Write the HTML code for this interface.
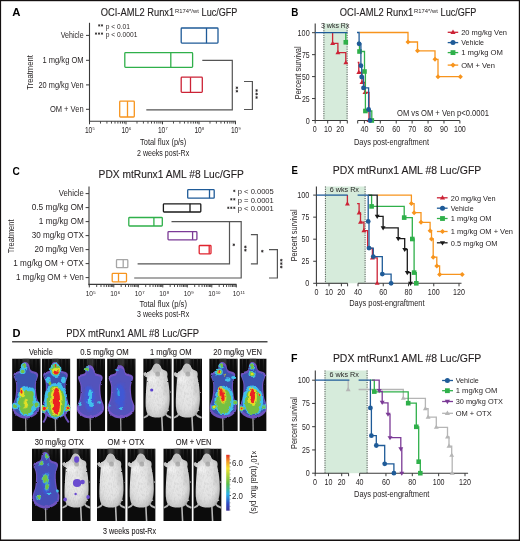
<!DOCTYPE html>
<html><head><meta charset="utf-8"><style>
html,body{margin:0;padding:0;background:#fff;width:520px;height:541px;overflow:hidden}
svg{display:block;will-change:transform}
text{font-family:"Liberation Sans",sans-serif}
</style></head><body>
<svg width="520" height="541" viewBox="0 0 520 541">
<rect x="0" y="0" width="520" height="541" fill="#fff"/>
<text x="12.30" y="15.70" font-size="11" textLength="8.20" lengthAdjust="spacingAndGlyphs" fill="#000" font-weight="bold">A</text>
<text x="100.80" y="16.40" font-size="10.1" textLength="73.40" lengthAdjust="spacingAndGlyphs" fill="#231f20" stroke="#231f20" stroke-width="0.12">OCI-AML2 Runx1</text>
<text x="175.10" y="13.30" font-size="6" textLength="23.70" lengthAdjust="spacingAndGlyphs" fill="#231f20">R174*/wt</text>
<text x="201.60" y="16.40" font-size="10.1" textLength="35.80" lengthAdjust="spacingAndGlyphs" fill="#231f20" stroke="#231f20" stroke-width="0.12">Luc/GFP</text>
<text x="339.80" y="16.40" font-size="10.1" textLength="73.40" lengthAdjust="spacingAndGlyphs" fill="#231f20" stroke="#231f20" stroke-width="0.12">OCI-AML2 Runx1</text>
<text x="414.10" y="13.30" font-size="6" textLength="23.70" lengthAdjust="spacingAndGlyphs" fill="#231f20">R174*/wt</text>
<text x="440.60" y="16.40" font-size="10.1" textLength="35.80" lengthAdjust="spacingAndGlyphs" fill="#231f20" stroke="#231f20" stroke-width="0.12">Luc/GFP</text>
<line x1="89.50" y1="22.80" x2="89.50" y2="121.80" stroke="#3a3a3a" stroke-width="1.1"/>
<line x1="89.00" y1="121.30" x2="236.00" y2="121.30" stroke="#3a3a3a" stroke-width="1.1"/>
<line x1="86.00" y1="35.40" x2="89.50" y2="35.40" stroke="#3a3a3a" stroke-width="1.0"/>
<text x="60.80" y="38.20" font-size="8.3" textLength="22.80" lengthAdjust="spacingAndGlyphs" fill="#231f20">Vehicle</text>
<line x1="86.00" y1="60.30" x2="89.50" y2="60.30" stroke="#3a3a3a" stroke-width="1.0"/>
<text x="42.50" y="63.10" font-size="8.3" textLength="41.10" lengthAdjust="spacingAndGlyphs" fill="#231f20">1 mg/kg OM</text>
<line x1="86.00" y1="84.90" x2="89.50" y2="84.90" stroke="#3a3a3a" stroke-width="1.0"/>
<text x="38.50" y="87.70" font-size="8.3" textLength="45.10" lengthAdjust="spacingAndGlyphs" fill="#231f20">20 mg/kg Ven</text>
<line x1="86.00" y1="109.30" x2="89.50" y2="109.30" stroke="#3a3a3a" stroke-width="1.0"/>
<text x="49.90" y="112.10" font-size="8.3" textLength="33.70" lengthAdjust="spacingAndGlyphs" fill="#231f20">OM + Ven</text>
<g transform="translate(29.90,72.50) rotate(-90)"><text x="-17.25" y="2.97" font-size="8.6" textLength="34.50" lengthAdjust="spacingAndGlyphs" fill="#231f20">Treatment</text></g>
<path d="M99.20,24.20L99.20,26.60M98.16,24.80L100.24,26.00M100.24,24.80L98.16,26.00" stroke="#231f20" stroke-width="0.7" fill="none"/>
<path d="M102.00,24.20L102.00,26.60M100.96,24.80L103.04,26.00M103.04,24.80L100.96,26.00" stroke="#231f20" stroke-width="0.7" fill="none"/>
<text x="105.80" y="28.50" font-size="6.4" textLength="24.10" lengthAdjust="spacingAndGlyphs" fill="#231f20">p &lt; 0.01</text>
<path d="M96.00,32.40L96.00,34.80M94.96,33.00L97.04,34.20M97.04,33.00L94.96,34.20" stroke="#231f20" stroke-width="0.7" fill="none"/>
<path d="M99.00,32.40L99.00,34.80M97.96,33.00L100.04,34.20M100.04,33.00L97.96,34.20" stroke="#231f20" stroke-width="0.7" fill="none"/>
<path d="M102.00,32.40L102.00,34.80M100.96,33.00L103.04,34.20M103.04,33.00L100.96,34.20" stroke="#231f20" stroke-width="0.7" fill="none"/>
<text x="105.80" y="36.60" font-size="6.4" textLength="31.60" lengthAdjust="spacingAndGlyphs" fill="#231f20">p &lt; 0.0001</text>
<line x1="89.50" y1="121.30" x2="89.50" y2="124.30" stroke="#3a3a3a" stroke-width="1.0"/>
<line x1="100.49" y1="121.30" x2="100.49" y2="123.60" stroke="#3a3a3a" stroke-width="0.9"/>
<line x1="106.91" y1="121.30" x2="106.91" y2="123.60" stroke="#3a3a3a" stroke-width="0.9"/>
<line x1="111.48" y1="121.30" x2="111.48" y2="123.60" stroke="#3a3a3a" stroke-width="0.9"/>
<line x1="115.01" y1="121.30" x2="115.01" y2="123.60" stroke="#3a3a3a" stroke-width="0.9"/>
<line x1="117.90" y1="121.30" x2="117.90" y2="123.60" stroke="#3a3a3a" stroke-width="0.9"/>
<line x1="120.35" y1="121.30" x2="120.35" y2="123.60" stroke="#3a3a3a" stroke-width="0.9"/>
<line x1="122.46" y1="121.30" x2="122.46" y2="123.60" stroke="#3a3a3a" stroke-width="0.9"/>
<line x1="124.33" y1="121.30" x2="124.33" y2="123.60" stroke="#3a3a3a" stroke-width="0.9"/>
<text x="84.90" y="132.80" font-size="8.4" textLength="7.40" lengthAdjust="spacingAndGlyphs" fill="#231f20">10</text>
<text x="92.60" y="130.30" font-size="3.8" textLength="2.20" lengthAdjust="spacingAndGlyphs" fill="#231f20">5</text>
<line x1="126.00" y1="121.30" x2="126.00" y2="124.30" stroke="#3a3a3a" stroke-width="1.0"/>
<line x1="136.99" y1="121.30" x2="136.99" y2="123.60" stroke="#3a3a3a" stroke-width="0.9"/>
<line x1="143.41" y1="121.30" x2="143.41" y2="123.60" stroke="#3a3a3a" stroke-width="0.9"/>
<line x1="147.98" y1="121.30" x2="147.98" y2="123.60" stroke="#3a3a3a" stroke-width="0.9"/>
<line x1="151.51" y1="121.30" x2="151.51" y2="123.60" stroke="#3a3a3a" stroke-width="0.9"/>
<line x1="154.40" y1="121.30" x2="154.40" y2="123.60" stroke="#3a3a3a" stroke-width="0.9"/>
<line x1="156.85" y1="121.30" x2="156.85" y2="123.60" stroke="#3a3a3a" stroke-width="0.9"/>
<line x1="158.96" y1="121.30" x2="158.96" y2="123.60" stroke="#3a3a3a" stroke-width="0.9"/>
<line x1="160.83" y1="121.30" x2="160.83" y2="123.60" stroke="#3a3a3a" stroke-width="0.9"/>
<text x="121.40" y="132.80" font-size="8.4" textLength="7.40" lengthAdjust="spacingAndGlyphs" fill="#231f20">10</text>
<text x="129.10" y="130.30" font-size="3.8" textLength="2.20" lengthAdjust="spacingAndGlyphs" fill="#231f20">6</text>
<line x1="162.50" y1="121.30" x2="162.50" y2="124.30" stroke="#3a3a3a" stroke-width="1.0"/>
<line x1="173.49" y1="121.30" x2="173.49" y2="123.60" stroke="#3a3a3a" stroke-width="0.9"/>
<line x1="179.91" y1="121.30" x2="179.91" y2="123.60" stroke="#3a3a3a" stroke-width="0.9"/>
<line x1="184.48" y1="121.30" x2="184.48" y2="123.60" stroke="#3a3a3a" stroke-width="0.9"/>
<line x1="188.01" y1="121.30" x2="188.01" y2="123.60" stroke="#3a3a3a" stroke-width="0.9"/>
<line x1="190.90" y1="121.30" x2="190.90" y2="123.60" stroke="#3a3a3a" stroke-width="0.9"/>
<line x1="193.35" y1="121.30" x2="193.35" y2="123.60" stroke="#3a3a3a" stroke-width="0.9"/>
<line x1="195.46" y1="121.30" x2="195.46" y2="123.60" stroke="#3a3a3a" stroke-width="0.9"/>
<line x1="197.33" y1="121.30" x2="197.33" y2="123.60" stroke="#3a3a3a" stroke-width="0.9"/>
<text x="157.90" y="132.80" font-size="8.4" textLength="7.40" lengthAdjust="spacingAndGlyphs" fill="#231f20">10</text>
<text x="165.60" y="130.30" font-size="3.8" textLength="2.20" lengthAdjust="spacingAndGlyphs" fill="#231f20">7</text>
<line x1="199.00" y1="121.30" x2="199.00" y2="124.30" stroke="#3a3a3a" stroke-width="1.0"/>
<line x1="209.99" y1="121.30" x2="209.99" y2="123.60" stroke="#3a3a3a" stroke-width="0.9"/>
<line x1="216.41" y1="121.30" x2="216.41" y2="123.60" stroke="#3a3a3a" stroke-width="0.9"/>
<line x1="220.98" y1="121.30" x2="220.98" y2="123.60" stroke="#3a3a3a" stroke-width="0.9"/>
<line x1="224.51" y1="121.30" x2="224.51" y2="123.60" stroke="#3a3a3a" stroke-width="0.9"/>
<line x1="227.40" y1="121.30" x2="227.40" y2="123.60" stroke="#3a3a3a" stroke-width="0.9"/>
<line x1="229.85" y1="121.30" x2="229.85" y2="123.60" stroke="#3a3a3a" stroke-width="0.9"/>
<line x1="231.96" y1="121.30" x2="231.96" y2="123.60" stroke="#3a3a3a" stroke-width="0.9"/>
<line x1="233.83" y1="121.30" x2="233.83" y2="123.60" stroke="#3a3a3a" stroke-width="0.9"/>
<text x="194.40" y="132.80" font-size="8.4" textLength="7.40" lengthAdjust="spacingAndGlyphs" fill="#231f20">10</text>
<text x="202.10" y="130.30" font-size="3.8" textLength="2.20" lengthAdjust="spacingAndGlyphs" fill="#231f20">8</text>
<line x1="235.50" y1="121.30" x2="235.50" y2="124.30" stroke="#3a3a3a" stroke-width="1.0"/>
<text x="230.90" y="132.80" font-size="8.4" textLength="7.40" lengthAdjust="spacingAndGlyphs" fill="#231f20">10</text>
<text x="238.60" y="130.30" font-size="3.8" textLength="2.20" lengthAdjust="spacingAndGlyphs" fill="#231f20">9</text>
<text x="140.10" y="144.57" font-size="9.2" textLength="46.20" lengthAdjust="spacingAndGlyphs" fill="#231f20">Total flux (p/s)</text>
<text x="137.00" y="155.57" font-size="9.2" textLength="52.20" lengthAdjust="spacingAndGlyphs" fill="#231f20">2 weeks post-Rx</text>
<rect x="181.20" y="28.00" width="36.80" height="15.10" fill="none" stroke="#1f5b98" stroke-width="1.3" rx="0.8"/>
<line x1="206.50" y1="28.00" x2="206.50" y2="43.10" stroke="#1f5b98" stroke-width="1.3"/>
<rect x="124.80" y="52.70" width="67.80" height="14.70" fill="none" stroke="#2fb04a" stroke-width="1.3" rx="0.8"/>
<line x1="170.80" y1="52.70" x2="170.80" y2="67.40" stroke="#2fb04a" stroke-width="1.3"/>
<rect x="181.20" y="77.20" width="21.10" height="15.10" fill="none" stroke="#cc2336" stroke-width="1.3" rx="0.8"/>
<line x1="190.50" y1="77.20" x2="190.50" y2="92.30" stroke="#cc2336" stroke-width="1.3"/>
<rect x="119.70" y="101.20" width="14.60" height="15.80" fill="none" stroke="#f7941d" stroke-width="1.3" rx="0.8"/>
<line x1="127.50" y1="101.20" x2="127.50" y2="117.00" stroke="#f7941d" stroke-width="1.3"/>
<polyline points="202.30,60.30 232.30,60.30 232.30,109.90 146.30,109.90" fill="none" stroke="#555555" stroke-width="1.2"/>
<polyline points="244.00,81.50 252.40,81.50 252.40,109.50 244.00,109.50" fill="none" stroke="#555555" stroke-width="1.2"/>
<path d="M236.90,86.45L236.90,89.15M235.73,87.12L238.07,88.47M238.07,87.12L235.73,88.47" stroke="#231f20" stroke-width="0.75" fill="none"/>
<path d="M236.90,89.85L236.90,92.55M235.73,90.53L238.07,91.88M238.07,90.53L235.73,91.88" stroke="#231f20" stroke-width="0.75" fill="none"/>
<path d="M256.60,89.15L256.60,91.85M255.43,89.83L257.77,91.17M257.77,89.83L255.43,91.17" stroke="#231f20" stroke-width="0.75" fill="none"/>
<path d="M256.60,92.65L256.60,95.35M255.43,93.33L257.77,94.67M257.77,93.33L255.43,94.67" stroke="#231f20" stroke-width="0.75" fill="none"/>
<path d="M256.60,96.15L256.60,98.85M255.43,96.83L257.77,98.17M257.77,96.83L255.43,98.17" stroke="#231f20" stroke-width="0.75" fill="none"/>
<text x="291.20" y="15.80" font-size="11" textLength="7.10" lengthAdjust="spacingAndGlyphs" fill="#000" font-weight="bold">B</text>
<rect x="323.50" y="23.40" width="24.00" height="97.10" fill="#d6ebdb"/>
<line x1="323.90" y1="23.40" x2="323.90" y2="120.50" stroke="#333" stroke-width="0.9" stroke-dasharray="1,1.3"/>
<line x1="347.10" y1="23.40" x2="347.10" y2="120.50" stroke="#333" stroke-width="0.9" stroke-dasharray="1,1.3"/>
<text x="321.00" y="28.40" font-size="7.0" textLength="28.40" lengthAdjust="spacingAndGlyphs" fill="#231f20">3 wks Rx</text>
<line x1="315.20" y1="23.40" x2="315.20" y2="121.00" stroke="#3a3a3a" stroke-width="1.1"/>
<line x1="312.00" y1="32.70" x2="315.20" y2="32.70" stroke="#3a3a3a" stroke-width="1.0"/>
<text x="297.60" y="35.70" font-size="9.0" textLength="12.10" lengthAdjust="spacingAndGlyphs" fill="#231f20">100</text>
<line x1="312.00" y1="54.65" x2="315.20" y2="54.65" stroke="#3a3a3a" stroke-width="1.0"/>
<text x="302.00" y="57.65" font-size="9.0" textLength="7.70" lengthAdjust="spacingAndGlyphs" fill="#231f20">75</text>
<line x1="312.00" y1="76.60" x2="315.20" y2="76.60" stroke="#3a3a3a" stroke-width="1.0"/>
<text x="302.00" y="79.60" font-size="9.0" textLength="7.70" lengthAdjust="spacingAndGlyphs" fill="#231f20">50</text>
<line x1="312.00" y1="98.55" x2="315.20" y2="98.55" stroke="#3a3a3a" stroke-width="1.0"/>
<text x="302.00" y="101.55" font-size="9.0" textLength="7.70" lengthAdjust="spacingAndGlyphs" fill="#231f20">25</text>
<line x1="312.00" y1="120.50" x2="315.20" y2="120.50" stroke="#3a3a3a" stroke-width="1.0"/>
<text x="305.70" y="123.50" font-size="9.0" textLength="4.00" lengthAdjust="spacingAndGlyphs" fill="#231f20">0</text>
<g transform="translate(298.30,72.80) rotate(-90)"><text x="-26.45" y="2.97" font-size="8.6" textLength="52.90" lengthAdjust="spacingAndGlyphs" fill="#231f20">Percent survival</text></g>
<line x1="315.20" y1="120.50" x2="347.30" y2="120.50" stroke="#3a3a3a" stroke-width="1.1"/>
<line x1="315.20" y1="120.50" x2="315.20" y2="123.50" stroke="#3a3a3a" stroke-width="1.0"/>
<line x1="327.70" y1="120.50" x2="327.70" y2="123.50" stroke="#3a3a3a" stroke-width="1.0"/>
<line x1="340.20" y1="120.50" x2="340.20" y2="123.50" stroke="#3a3a3a" stroke-width="1.0"/>
<line x1="347.30" y1="120.50" x2="347.30" y2="123.50" stroke="#3a3a3a" stroke-width="1.0"/>
<line x1="357.70" y1="120.50" x2="459.80" y2="120.50" stroke="#3a3a3a" stroke-width="1.1"/>
<line x1="357.70" y1="120.50" x2="357.70" y2="123.50" stroke="#3a3a3a" stroke-width="1.0"/>
<line x1="364.40" y1="120.50" x2="364.40" y2="123.50" stroke="#3a3a3a" stroke-width="1.0"/>
<line x1="380.31" y1="120.50" x2="380.31" y2="123.50" stroke="#3a3a3a" stroke-width="1.0"/>
<line x1="396.23" y1="120.50" x2="396.23" y2="123.50" stroke="#3a3a3a" stroke-width="1.0"/>
<line x1="412.14" y1="120.50" x2="412.14" y2="123.50" stroke="#3a3a3a" stroke-width="1.0"/>
<line x1="428.06" y1="120.50" x2="428.06" y2="123.50" stroke="#3a3a3a" stroke-width="1.0"/>
<line x1="443.97" y1="120.50" x2="443.97" y2="123.50" stroke="#3a3a3a" stroke-width="1.0"/>
<line x1="459.88" y1="120.50" x2="459.88" y2="123.50" stroke="#3a3a3a" stroke-width="1.0"/>
<text x="312.82" y="132.46" font-size="8.3" textLength="3.95" lengthAdjust="spacingAndGlyphs" fill="#231f20">0</text>
<text x="324.05" y="132.46" font-size="8.3" textLength="7.90" lengthAdjust="spacingAndGlyphs" fill="#231f20">10</text>
<text x="336.35" y="132.46" font-size="8.3" textLength="7.90" lengthAdjust="spacingAndGlyphs" fill="#231f20">20</text>
<text x="360.45" y="132.46" font-size="8.3" textLength="7.90" lengthAdjust="spacingAndGlyphs" fill="#231f20">40</text>
<text x="376.36" y="132.46" font-size="8.3" textLength="7.90" lengthAdjust="spacingAndGlyphs" fill="#231f20">50</text>
<text x="392.28" y="132.46" font-size="8.3" textLength="7.90" lengthAdjust="spacingAndGlyphs" fill="#231f20">60</text>
<text x="408.19" y="132.46" font-size="8.3" textLength="7.90" lengthAdjust="spacingAndGlyphs" fill="#231f20">70</text>
<text x="424.11" y="132.46" font-size="8.3" textLength="7.90" lengthAdjust="spacingAndGlyphs" fill="#231f20">80</text>
<text x="440.02" y="132.46" font-size="8.3" textLength="7.90" lengthAdjust="spacingAndGlyphs" fill="#231f20">90</text>
<text x="453.96" y="132.46" font-size="8.3" textLength="11.85" lengthAdjust="spacingAndGlyphs" fill="#231f20">100</text>
<text x="354.00" y="144.78" font-size="9.8" textLength="75.00" lengthAdjust="spacingAndGlyphs" fill="#231f20">Days post-engraftment</text>
<text x="397.00" y="115.90" font-size="8.4" textLength="92.00" lengthAdjust="spacingAndGlyphs" fill="#231f20">OM vs OM + Ven p&lt;0.0001</text>
<polyline points="359.50,32.50 408.00,32.50 408.00,42.00 417.50,42.00 417.50,50.80 435.00,50.80 435.00,59.30 438.00,59.30 438.00,76.70 460.40,76.70" fill="none" stroke="#f7941d" stroke-width="1.3" stroke-linejoin="miter"/>
<path d="M408.00,39.50 L410.50,42.00 L408.00,44.50 L405.50,42.00Z" fill="#f7941d"/>
<path d="M417.50,48.30 L420.00,50.80 L417.50,53.30 L415.00,50.80Z" fill="#f7941d"/>
<path d="M435.00,56.80 L437.50,59.30 L435.00,61.80 L432.50,59.30Z" fill="#f7941d"/>
<path d="M438.00,74.20 L440.50,76.70 L438.00,79.20 L435.50,76.70Z" fill="#f7941d"/>
<path d="M460.40,74.20 L462.90,76.70 L460.40,79.20 L457.90,76.70Z" fill="#f7941d"/>
<polyline points="332.60,32.70 332.60,43.40 337.90,43.40 337.90,52.60 345.80,52.60 345.80,62.80 347.50,62.80" fill="none" stroke="#cc2336" stroke-width="1.3" stroke-linejoin="miter"/>
<path d="M332.60,40.80 L335.07,44.96 L330.13,44.96Z" fill="#cc2336"/>
<path d="M337.90,50.00 L340.37,54.16 L335.43,54.16Z" fill="#cc2336"/>
<path d="M345.80,60.20 L348.27,64.36 L343.33,64.36Z" fill="#cc2336"/>
<polyline points="357.70,62.50 358.80,62.50 358.80,72.40 362.00,72.40 362.00,82.50 365.00,82.50 365.00,92.50 369.00,92.50 369.00,120.50" fill="none" stroke="#cc2336" stroke-width="1.3" stroke-linejoin="miter"/>
<path d="M358.80,69.80 L361.27,73.96 L356.33,73.96Z" fill="#cc2336"/>
<path d="M362.00,79.90 L364.47,84.06 L359.53,84.06Z" fill="#cc2336"/>
<path d="M365.00,89.90 L367.47,94.06 L362.53,94.06Z" fill="#cc2336"/>
<path d="M369.00,117.90 L371.47,122.06 L366.53,122.06Z" fill="#cc2336"/>
<polyline points="345.80,32.70 345.80,42.30 347.50,42.30" fill="none" stroke="#2fb04a" stroke-width="1.3" stroke-linejoin="miter"/>
<rect x="343.50" y="40.00" width="4.60" height="4.60" fill="#2fb04a"/>
<polyline points="357.70,42.30 359.50,42.30 359.50,51.50 364.50,51.50 364.50,71.50 365.40,71.50 365.40,111.00 371.80,111.00 371.80,120.50" fill="none" stroke="#2fb04a" stroke-width="1.3" stroke-linejoin="miter"/>
<rect x="357.20" y="49.20" width="4.60" height="4.60" fill="#2fb04a"/>
<rect x="362.20" y="69.20" width="4.60" height="4.60" fill="#2fb04a"/>
<rect x="363.10" y="108.70" width="4.60" height="4.60" fill="#2fb04a"/>
<rect x="369.50" y="118.20" width="4.60" height="4.60" fill="#2fb04a"/>
<polyline points="315.20,32.70 347.50,32.70" fill="none" stroke="#1f5b98" stroke-width="1.3" stroke-linejoin="miter"/>
<polyline points="357.00,32.50 359.10,32.50 359.10,43.80 360.90,43.80 360.90,65.70 361.70,65.70 361.70,77.00 363.50,77.00 363.50,87.90 368.60,87.90 368.60,109.50 370.00,109.50 370.00,120.50" fill="none" stroke="#1f5b98" stroke-width="1.3" stroke-linejoin="miter"/>
<circle cx="359.10" cy="43.80" r="2.40" fill="#1f5b98"/>
<circle cx="360.90" cy="65.70" r="2.40" fill="#1f5b98"/>
<circle cx="361.70" cy="77.00" r="2.40" fill="#1f5b98"/>
<circle cx="363.50" cy="87.90" r="2.40" fill="#1f5b98"/>
<circle cx="368.60" cy="109.50" r="2.40" fill="#1f5b98"/>
<circle cx="370.00" cy="120.50" r="2.40" fill="#1f5b98"/>
<line x1="447.70" y1="32.30" x2="458.20" y2="32.30" stroke="#cc2336" stroke-width="1.3"/>
<path d="M453.00,29.57 L455.59,33.94 L450.41,33.94Z" fill="#cc2336"/>
<text x="461.20" y="35.05" font-size="8.0" textLength="45.80" lengthAdjust="spacingAndGlyphs" fill="#231f20">20 mg/kg Ven</text>
<line x1="447.70" y1="42.60" x2="458.20" y2="42.60" stroke="#1f5b98" stroke-width="1.3"/>
<circle cx="453.00" cy="42.60" r="2.52" fill="#1f5b98"/>
<text x="461.20" y="45.35" font-size="8.0" textLength="22.80" lengthAdjust="spacingAndGlyphs" fill="#231f20">Vehicle</text>
<line x1="447.70" y1="52.60" x2="458.20" y2="52.60" stroke="#2fb04a" stroke-width="1.3"/>
<rect x="450.58" y="50.19" width="4.83" height="4.83" fill="#2fb04a"/>
<text x="461.20" y="55.35" font-size="8.0" textLength="41.80" lengthAdjust="spacingAndGlyphs" fill="#231f20">1 mg/kg OM</text>
<line x1="447.70" y1="65.10" x2="458.20" y2="65.10" stroke="#f7941d" stroke-width="1.3"/>
<path d="M453.00,62.47 L455.62,65.10 L453.00,67.72 L450.38,65.10Z" fill="#f7941d"/>
<text x="461.20" y="67.85" font-size="8.0" textLength="33.80" lengthAdjust="spacingAndGlyphs" fill="#231f20">OM + Ven</text>
<text x="12.50" y="174.50" font-size="11" textLength="7.30" lengthAdjust="spacingAndGlyphs" fill="#000" font-weight="bold">C</text>
<text x="98.60" y="177.70" font-size="10.7" textLength="145.20" lengthAdjust="spacingAndGlyphs" fill="#231f20" stroke="#231f20" stroke-width="0.12">PDX mtRunx1 AML #8 Luc/GFP</text>
<line x1="89.00" y1="186.50" x2="89.00" y2="285.30" stroke="#3a3a3a" stroke-width="1.1"/>
<line x1="88.50" y1="284.40" x2="236.50" y2="284.40" stroke="#3a3a3a" stroke-width="1.2"/>
<line x1="85.60" y1="193.60" x2="89.00" y2="193.60" stroke="#3a3a3a" stroke-width="1.0"/>
<text x="58.80" y="196.40" font-size="8.3" textLength="25.00" lengthAdjust="spacingAndGlyphs" fill="#231f20">Vehicle</text>
<line x1="85.60" y1="207.60" x2="89.00" y2="207.60" stroke="#3a3a3a" stroke-width="1.0"/>
<text x="31.70" y="210.40" font-size="8.3" textLength="52.10" lengthAdjust="spacingAndGlyphs" fill="#231f20">0.5 mg/kg OM</text>
<line x1="85.60" y1="221.60" x2="89.00" y2="221.60" stroke="#3a3a3a" stroke-width="1.0"/>
<text x="38.80" y="224.40" font-size="8.3" textLength="45.00" lengthAdjust="spacingAndGlyphs" fill="#231f20">1 mg/kg OM</text>
<line x1="85.60" y1="235.60" x2="89.00" y2="235.60" stroke="#3a3a3a" stroke-width="1.0"/>
<text x="31.70" y="238.40" font-size="8.3" textLength="52.10" lengthAdjust="spacingAndGlyphs" fill="#231f20">30 mg/kg OTX</text>
<line x1="85.60" y1="249.60" x2="89.00" y2="249.60" stroke="#3a3a3a" stroke-width="1.0"/>
<text x="34.40" y="252.40" font-size="8.3" textLength="49.40" lengthAdjust="spacingAndGlyphs" fill="#231f20">20 mg/kg Ven</text>
<line x1="85.60" y1="263.60" x2="89.00" y2="263.60" stroke="#3a3a3a" stroke-width="1.0"/>
<text x="13.30" y="266.40" font-size="8.3" textLength="70.50" lengthAdjust="spacingAndGlyphs" fill="#231f20">1 mg/kg OM + OTX</text>
<line x1="85.60" y1="277.60" x2="89.00" y2="277.60" stroke="#3a3a3a" stroke-width="1.0"/>
<text x="16.00" y="280.40" font-size="8.3" textLength="67.80" lengthAdjust="spacingAndGlyphs" fill="#231f20">1 mg/kg OM + Ven</text>
<g transform="translate(10.90,236.40) rotate(-90)"><text x="-16.85" y="2.97" font-size="8.6" textLength="33.70" lengthAdjust="spacingAndGlyphs" fill="#231f20">Treatment</text></g>
<path d="M234.30,189.70L234.30,192.10M233.26,190.30L235.34,191.50M235.34,190.30L233.26,191.50" stroke="#231f20" stroke-width="0.7" fill="none"/>
<text x="237.80" y="194.20" font-size="6.5" textLength="36.00" lengthAdjust="spacingAndGlyphs" fill="#231f20">p &lt; 0.0005</text>
<path d="M231.30,198.10L231.30,200.50M230.26,198.70L232.34,199.90M232.34,198.70L230.26,199.90" stroke="#231f20" stroke-width="0.7" fill="none"/>
<path d="M234.30,198.10L234.30,200.50M233.26,198.70L235.34,199.90M235.34,198.70L233.26,199.90" stroke="#231f20" stroke-width="0.7" fill="none"/>
<text x="237.80" y="202.60" font-size="6.5" textLength="36.00" lengthAdjust="spacingAndGlyphs" fill="#231f20">p = 0.0001</text>
<path d="M228.30,206.60L228.30,209.00M227.26,207.20L229.34,208.40M229.34,207.20L227.26,208.40" stroke="#231f20" stroke-width="0.7" fill="none"/>
<path d="M231.30,206.60L231.30,209.00M230.26,207.20L232.34,208.40M232.34,207.20L230.26,208.40" stroke="#231f20" stroke-width="0.7" fill="none"/>
<path d="M234.30,206.60L234.30,209.00M233.26,207.20L235.34,208.40M235.34,207.20L233.26,208.40" stroke="#231f20" stroke-width="0.7" fill="none"/>
<text x="237.80" y="211.10" font-size="6.5" textLength="36.00" lengthAdjust="spacingAndGlyphs" fill="#231f20">p &lt; 0.0001</text>
<line x1="89.30" y1="284.40" x2="89.30" y2="287.40" stroke="#3a3a3a" stroke-width="1.0"/>
<line x1="96.68" y1="284.40" x2="96.68" y2="287.00" stroke="#3a3a3a" stroke-width="0.9"/>
<line x1="100.99" y1="284.40" x2="100.99" y2="287.00" stroke="#3a3a3a" stroke-width="0.9"/>
<line x1="104.05" y1="284.40" x2="104.05" y2="287.00" stroke="#3a3a3a" stroke-width="0.9"/>
<line x1="106.42" y1="284.40" x2="106.42" y2="287.00" stroke="#3a3a3a" stroke-width="0.9"/>
<line x1="108.36" y1="284.40" x2="108.36" y2="287.00" stroke="#3a3a3a" stroke-width="0.9"/>
<line x1="110.00" y1="284.40" x2="110.00" y2="287.00" stroke="#3a3a3a" stroke-width="0.9"/>
<line x1="111.43" y1="284.40" x2="111.43" y2="287.00" stroke="#3a3a3a" stroke-width="0.9"/>
<line x1="112.68" y1="284.40" x2="112.68" y2="287.00" stroke="#3a3a3a" stroke-width="0.9"/>
<text x="85.65" y="296.00" font-size="7.6" textLength="7.30" lengthAdjust="spacingAndGlyphs" fill="#231f20">10</text>
<text x="93.20" y="293.70" font-size="3.8" textLength="2.40" lengthAdjust="spacingAndGlyphs" fill="#231f20">5</text>
<line x1="113.80" y1="284.40" x2="113.80" y2="287.40" stroke="#3a3a3a" stroke-width="1.0"/>
<line x1="121.18" y1="284.40" x2="121.18" y2="287.00" stroke="#3a3a3a" stroke-width="0.9"/>
<line x1="125.49" y1="284.40" x2="125.49" y2="287.00" stroke="#3a3a3a" stroke-width="0.9"/>
<line x1="128.55" y1="284.40" x2="128.55" y2="287.00" stroke="#3a3a3a" stroke-width="0.9"/>
<line x1="130.92" y1="284.40" x2="130.92" y2="287.00" stroke="#3a3a3a" stroke-width="0.9"/>
<line x1="132.86" y1="284.40" x2="132.86" y2="287.00" stroke="#3a3a3a" stroke-width="0.9"/>
<line x1="134.50" y1="284.40" x2="134.50" y2="287.00" stroke="#3a3a3a" stroke-width="0.9"/>
<line x1="135.93" y1="284.40" x2="135.93" y2="287.00" stroke="#3a3a3a" stroke-width="0.9"/>
<line x1="137.18" y1="284.40" x2="137.18" y2="287.00" stroke="#3a3a3a" stroke-width="0.9"/>
<text x="110.15" y="296.00" font-size="7.6" textLength="7.30" lengthAdjust="spacingAndGlyphs" fill="#231f20">10</text>
<text x="117.70" y="293.70" font-size="3.8" textLength="2.40" lengthAdjust="spacingAndGlyphs" fill="#231f20">6</text>
<line x1="138.30" y1="284.40" x2="138.30" y2="287.40" stroke="#3a3a3a" stroke-width="1.0"/>
<line x1="145.68" y1="284.40" x2="145.68" y2="287.00" stroke="#3a3a3a" stroke-width="0.9"/>
<line x1="149.99" y1="284.40" x2="149.99" y2="287.00" stroke="#3a3a3a" stroke-width="0.9"/>
<line x1="153.05" y1="284.40" x2="153.05" y2="287.00" stroke="#3a3a3a" stroke-width="0.9"/>
<line x1="155.42" y1="284.40" x2="155.42" y2="287.00" stroke="#3a3a3a" stroke-width="0.9"/>
<line x1="157.36" y1="284.40" x2="157.36" y2="287.00" stroke="#3a3a3a" stroke-width="0.9"/>
<line x1="159.00" y1="284.40" x2="159.00" y2="287.00" stroke="#3a3a3a" stroke-width="0.9"/>
<line x1="160.43" y1="284.40" x2="160.43" y2="287.00" stroke="#3a3a3a" stroke-width="0.9"/>
<line x1="161.68" y1="284.40" x2="161.68" y2="287.00" stroke="#3a3a3a" stroke-width="0.9"/>
<text x="134.65" y="296.00" font-size="7.6" textLength="7.30" lengthAdjust="spacingAndGlyphs" fill="#231f20">10</text>
<text x="142.20" y="293.70" font-size="3.8" textLength="2.40" lengthAdjust="spacingAndGlyphs" fill="#231f20">7</text>
<line x1="162.80" y1="284.40" x2="162.80" y2="287.40" stroke="#3a3a3a" stroke-width="1.0"/>
<line x1="170.18" y1="284.40" x2="170.18" y2="287.00" stroke="#3a3a3a" stroke-width="0.9"/>
<line x1="174.49" y1="284.40" x2="174.49" y2="287.00" stroke="#3a3a3a" stroke-width="0.9"/>
<line x1="177.55" y1="284.40" x2="177.55" y2="287.00" stroke="#3a3a3a" stroke-width="0.9"/>
<line x1="179.92" y1="284.40" x2="179.92" y2="287.00" stroke="#3a3a3a" stroke-width="0.9"/>
<line x1="181.86" y1="284.40" x2="181.86" y2="287.00" stroke="#3a3a3a" stroke-width="0.9"/>
<line x1="183.50" y1="284.40" x2="183.50" y2="287.00" stroke="#3a3a3a" stroke-width="0.9"/>
<line x1="184.93" y1="284.40" x2="184.93" y2="287.00" stroke="#3a3a3a" stroke-width="0.9"/>
<line x1="186.18" y1="284.40" x2="186.18" y2="287.00" stroke="#3a3a3a" stroke-width="0.9"/>
<text x="159.15" y="296.00" font-size="7.6" textLength="7.30" lengthAdjust="spacingAndGlyphs" fill="#231f20">10</text>
<text x="166.70" y="293.70" font-size="3.8" textLength="2.40" lengthAdjust="spacingAndGlyphs" fill="#231f20">8</text>
<line x1="187.30" y1="284.40" x2="187.30" y2="287.40" stroke="#3a3a3a" stroke-width="1.0"/>
<line x1="194.68" y1="284.40" x2="194.68" y2="287.00" stroke="#3a3a3a" stroke-width="0.9"/>
<line x1="198.99" y1="284.40" x2="198.99" y2="287.00" stroke="#3a3a3a" stroke-width="0.9"/>
<line x1="202.05" y1="284.40" x2="202.05" y2="287.00" stroke="#3a3a3a" stroke-width="0.9"/>
<line x1="204.42" y1="284.40" x2="204.42" y2="287.00" stroke="#3a3a3a" stroke-width="0.9"/>
<line x1="206.36" y1="284.40" x2="206.36" y2="287.00" stroke="#3a3a3a" stroke-width="0.9"/>
<line x1="208.00" y1="284.40" x2="208.00" y2="287.00" stroke="#3a3a3a" stroke-width="0.9"/>
<line x1="209.43" y1="284.40" x2="209.43" y2="287.00" stroke="#3a3a3a" stroke-width="0.9"/>
<line x1="210.68" y1="284.40" x2="210.68" y2="287.00" stroke="#3a3a3a" stroke-width="0.9"/>
<text x="183.65" y="296.00" font-size="7.6" textLength="7.30" lengthAdjust="spacingAndGlyphs" fill="#231f20">10</text>
<text x="191.20" y="293.70" font-size="3.8" textLength="2.40" lengthAdjust="spacingAndGlyphs" fill="#231f20">9</text>
<line x1="211.80" y1="284.40" x2="211.80" y2="287.40" stroke="#3a3a3a" stroke-width="1.0"/>
<line x1="219.18" y1="284.40" x2="219.18" y2="287.00" stroke="#3a3a3a" stroke-width="0.9"/>
<line x1="223.49" y1="284.40" x2="223.49" y2="287.00" stroke="#3a3a3a" stroke-width="0.9"/>
<line x1="226.55" y1="284.40" x2="226.55" y2="287.00" stroke="#3a3a3a" stroke-width="0.9"/>
<line x1="228.92" y1="284.40" x2="228.92" y2="287.00" stroke="#3a3a3a" stroke-width="0.9"/>
<line x1="230.86" y1="284.40" x2="230.86" y2="287.00" stroke="#3a3a3a" stroke-width="0.9"/>
<line x1="232.50" y1="284.40" x2="232.50" y2="287.00" stroke="#3a3a3a" stroke-width="0.9"/>
<line x1="233.93" y1="284.40" x2="233.93" y2="287.00" stroke="#3a3a3a" stroke-width="0.9"/>
<line x1="235.18" y1="284.40" x2="235.18" y2="287.00" stroke="#3a3a3a" stroke-width="0.9"/>
<text x="208.15" y="296.00" font-size="7.6" textLength="7.30" lengthAdjust="spacingAndGlyphs" fill="#231f20">10</text>
<text x="215.70" y="293.70" font-size="3.8" textLength="4.80" lengthAdjust="spacingAndGlyphs" fill="#231f20">10</text>
<line x1="236.30" y1="284.40" x2="236.30" y2="287.40" stroke="#3a3a3a" stroke-width="1.0"/>
<text x="232.65" y="296.00" font-size="7.6" textLength="7.30" lengthAdjust="spacingAndGlyphs" fill="#231f20">10</text>
<text x="240.20" y="293.70" font-size="3.8" textLength="4.80" lengthAdjust="spacingAndGlyphs" fill="#231f20">11</text>
<text x="139.45" y="307.37" font-size="9.2" textLength="47.50" lengthAdjust="spacingAndGlyphs" fill="#231f20">Total flux (p/s)</text>
<text x="137.00" y="317.07" font-size="9.2" textLength="52.20" lengthAdjust="spacingAndGlyphs" fill="#231f20">3 weeks post-Rx</text>
<rect x="187.70" y="189.70" width="26.50" height="8.50" fill="none" stroke="#1f5b98" stroke-width="1.3" rx="0.8"/>
<line x1="209.50" y1="189.70" x2="209.50" y2="198.20" stroke="#1f5b98" stroke-width="1.3"/>
<rect x="163.40" y="203.80" width="37.40" height="8.20" fill="none" stroke="#1a1a1a" stroke-width="1.3" rx="0.8"/>
<line x1="190.00" y1="203.80" x2="190.00" y2="212.00" stroke="#1a1a1a" stroke-width="1.3"/>
<rect x="128.80" y="217.50" width="33.50" height="8.50" fill="none" stroke="#2fb04a" stroke-width="1.3" rx="0.8"/>
<line x1="153.90" y1="217.50" x2="153.90" y2="226.00" stroke="#2fb04a" stroke-width="1.3"/>
<rect x="168.00" y="231.60" width="28.90" height="8.30" fill="none" stroke="#7b3a96" stroke-width="1.3" rx="0.8"/>
<line x1="192.60" y1="231.60" x2="192.60" y2="239.90" stroke="#7b3a96" stroke-width="1.3"/>
<rect x="199.20" y="245.50" width="11.80" height="8.30" fill="none" stroke="#e0242f" stroke-width="1.3" rx="0.8"/>
<line x1="209.20" y1="245.50" x2="209.20" y2="253.80" stroke="#e0242f" stroke-width="1.3"/>
<rect x="116.50" y="259.70" width="11.30" height="8.00" fill="none" stroke="#a6a6a6" stroke-width="1.3" rx="0.8"/>
<line x1="123.20" y1="259.70" x2="123.20" y2="267.70" stroke="#a6a6a6" stroke-width="1.3"/>
<rect x="112.20" y="273.40" width="14.30" height="8.40" fill="none" stroke="#f7941d" stroke-width="1.3" rx="0.8"/>
<line x1="118.50" y1="273.40" x2="118.50" y2="281.80" stroke="#f7941d" stroke-width="1.3"/>
<polyline points="171.50,221.70 241.20,221.70 241.20,278.00 134.20,278.00" fill="none" stroke="#555555" stroke-width="1.2"/>
<polyline points="229.50,221.70 229.50,263.90 137.60,263.90" fill="none" stroke="#555555" stroke-width="1.2"/>
<polyline points="250.90,234.70 257.30,234.70 257.30,263.90 250.90,263.90" fill="none" stroke="#555555" stroke-width="1.2"/>
<polyline points="269.00,249.70 277.40,249.70 277.40,278.00 269.00,278.00" fill="none" stroke="#555555" stroke-width="1.2"/>
<path d="M233.80,243.45L233.80,246.15M232.63,244.12L234.97,245.48M234.97,244.12L232.63,245.48" stroke="#231f20" stroke-width="0.75" fill="none"/>
<path d="M245.40,245.55L245.40,248.25M244.23,246.22L246.57,247.58M246.57,246.22L244.23,247.58" stroke="#231f20" stroke-width="0.75" fill="none"/>
<path d="M245.40,248.85L245.40,251.55M244.23,249.52L246.57,250.88M246.57,249.52L244.23,250.88" stroke="#231f20" stroke-width="0.75" fill="none"/>
<path d="M262.30,249.85L262.30,252.55M261.13,250.52L263.47,251.88M263.47,250.52L261.13,251.88" stroke="#231f20" stroke-width="0.75" fill="none"/>
<path d="M281.30,258.85L281.30,261.55M280.13,259.52L282.47,260.88M282.47,259.52L280.13,260.88" stroke="#231f20" stroke-width="0.75" fill="none"/>
<path d="M281.30,262.25L281.30,264.95M280.13,262.93L282.47,264.28M282.47,262.93L280.13,264.28" stroke="#231f20" stroke-width="0.75" fill="none"/>
<path d="M281.30,265.65L281.30,268.35M280.13,266.32L282.47,267.68M282.47,266.32L280.13,267.68" stroke="#231f20" stroke-width="0.75" fill="none"/>
<defs>
<filter id="wob" x="-20%" y="-20%" width="140%" height="140%"><feTurbulence type="fractalNoise" baseFrequency="0.22" numOctaves="2" seed="3" result="n"/><feDisplacementMap in="SourceGraphic" in2="n" scale="3.5" xChannelSelector="R" yChannelSelector="G" result="d"/><feGaussianBlur in="d" stdDeviation="0.5"/></filter>
<filter id="wob2" x="-20%" y="-20%" width="140%" height="140%"><feTurbulence type="fractalNoise" baseFrequency="0.3" numOctaves="2" seed="7" result="n"/><feDisplacementMap in="SourceGraphic" in2="n" scale="2.2" xChannelSelector="R" yChannelSelector="G" result="d"/><feGaussianBlur in="d" stdDeviation="0.3"/></filter>
<filter id="fur" x="0" y="0" width="100%" height="100%"><feTurbulence type="fractalNoise" baseFrequency="0.9 0.35" numOctaves="2" seed="11" result="n"/><feColorMatrix in="n" type="matrix" values="0 0 0 0 0.45  0 0 0 0 0.45  0 0 0 0 0.45  0 0 0 -2.2 1.25" result="m"/><feComposite in="m" in2="SourceGraphic" operator="in"/></filter>
<filter id="b0" x="-30%" y="-30%" width="160%" height="160%"><feGaussianBlur stdDeviation="0.45"/></filter>
<filter id="b1" x="-30%" y="-30%" width="160%" height="160%"><feGaussianBlur stdDeviation="0.7"/></filter>
<filter id="b2" x="-50%" y="-50%" width="200%" height="200%"><feGaussianBlur stdDeviation="1.1"/></filter>
<filter id="b3" x="-50%" y="-50%" width="200%" height="200%"><feGaussianBlur stdDeviation="1.8"/></filter>
<radialGradient id="wg" cx="0.48" cy="0.5" r="0.6"><stop offset="0" stop-color="#ebebeb"/><stop offset="0.6" stop-color="#dedede"/><stop offset="0.88" stop-color="#c2c2c2"/><stop offset="1" stop-color="#949494"/></radialGradient>
<linearGradient id="hg" x1="0" y1="0" x2="0" y2="1"><stop offset="0" stop-color="#6e6e6e"/><stop offset="0.6" stop-color="#9a9a9a" stop-opacity="0.9"/><stop offset="1" stop-color="#bdbdbd" stop-opacity="0"/></linearGradient>
<linearGradient id="stripe" x1="0" y1="0" x2="0" y2="1"><stop offset="0" stop-color="#5a5a5a"/><stop offset="1" stop-color="#2a2a2a" stop-opacity="0"/></linearGradient>
<linearGradient id="cb" x1="0" y1="1" x2="0" y2="0"><stop offset="0" stop-color="#3b3296"/><stop offset="0.12" stop-color="#2f49c4"/><stop offset="0.3" stop-color="#28b2e6"/><stop offset="0.48" stop-color="#5bbe4a"/><stop offset="0.62" stop-color="#a6cf3c"/><stop offset="0.76" stop-color="#f3e12c"/><stop offset="0.88" stop-color="#f39a25"/><stop offset="1" stop-color="#e42a23"/></linearGradient>
</defs>
<text x="12.60" y="336.80" font-size="11" textLength="8.00" lengthAdjust="spacingAndGlyphs" fill="#000" font-weight="bold">D</text>
<text x="66.20" y="336.70" font-size="10.1" textLength="132.90" lengthAdjust="spacingAndGlyphs" fill="#231f20" stroke="#231f20" stroke-width="0.1">PDX mtRunx1 AML #8 Luc/GFP</text>
<line x1="12.10" y1="341.70" x2="267.50" y2="341.70" stroke="#4a4a4a" stroke-width="1.5"/>
<text x="29.00" y="355.00" font-size="8.7" textLength="23.80" lengthAdjust="spacingAndGlyphs" fill="#231f20" stroke="#231f20" stroke-width="0.1">Vehicle</text>
<text x="80.25" y="355.00" font-size="8.7" textLength="48.50" lengthAdjust="spacingAndGlyphs" fill="#231f20" stroke="#231f20" stroke-width="0.1">0.5 mg/kg OM</text>
<text x="149.90" y="355.00" font-size="8.7" textLength="41.60" lengthAdjust="spacingAndGlyphs" fill="#231f20" stroke="#231f20" stroke-width="0.1">1 mg/kg OM</text>
<text x="213.25" y="355.00" font-size="8.7" textLength="48.70" lengthAdjust="spacingAndGlyphs" fill="#231f20" stroke="#231f20" stroke-width="0.1">20 mg/kg VEN</text>
<text x="34.80" y="444.80" font-size="8.7" textLength="49.00" lengthAdjust="spacingAndGlyphs" fill="#231f20" stroke="#231f20" stroke-width="0.1">30 mg/kg OTX</text>
<text x="107.55" y="444.80" font-size="8.7" textLength="36.90" lengthAdjust="spacingAndGlyphs" fill="#231f20" stroke="#231f20" stroke-width="0.1">OM + OTX</text>
<text x="175.65" y="444.80" font-size="8.7" textLength="35.70" lengthAdjust="spacingAndGlyphs" fill="#231f20" stroke="#231f20" stroke-width="0.1">OM + VEN</text>
<text x="103.05" y="533.82" font-size="9.9" textLength="53.10" lengthAdjust="spacingAndGlyphs" fill="#231f20" stroke="#231f20" stroke-width="0.1">3 weeks post-Rx</text>
<clipPath id="c1"><rect x="12.10" y="358.50" width="28.60" height="72.50"/></clipPath>
<g clip-path="url(#c1)">
<rect x="12.10" y="358.50" width="28.60" height="72.50" fill="#0c0c0c"/>
<rect x="14.60" y="358.50" width="0.9" height="16" fill="url(#stripe)" opacity="0.5"/>
<rect x="18.60" y="358.50" width="0.9" height="16" fill="url(#stripe)" opacity="0.5"/>
<rect x="22.60" y="358.50" width="0.9" height="16" fill="url(#stripe)" opacity="0.5"/>
<rect x="27.60" y="358.50" width="0.9" height="16" fill="url(#stripe)" opacity="0.5"/>
<rect x="31.60" y="358.50" width="0.9" height="16" fill="url(#stripe)" opacity="0.5"/>
<rect x="35.60" y="358.50" width="0.9" height="16" fill="url(#stripe)" opacity="0.5"/>
<rect x="38.90" y="358.50" width="0.9" height="16" fill="url(#stripe)" opacity="0.5"/>
<ellipse cx="26.40" cy="361.50" rx="3.5" ry="7" fill="#4a4a4a" opacity="0.6" filter="url(#b2)"/>
<g transform="translate(12.10,358.50)">
<path d="M13.5,57 L13.8,72.5" stroke="#a0a0a0" stroke-width="1.3" fill="none"/>
<g filter="url(#wob2)"><path d="M13,3.5 C15.5,3.5 17.5,6 17.8,9.5 C18,11.5 19.5,12.5 22,13 C25,13.5 26.5,15 26,17.5 C25.5,20 24,22 23.8,26 C23.6,31 24.2,36 25,40 C26.5,44 27.8,47 27.3,50.5 C26.8,54 24,56.5 21,58 C18,59.5 16,60 13.5,60 C11,60 8.5,59.5 6,58 C3,56.5 0.6,54 0.4,50.5 C0.2,47 1.5,44 3,40 C3.8,36 4.2,31 4,26 C3.8,22 2.2,20 1.5,17.5 C1,15 2.5,13.5 5.5,13 C8,12.5 9,11.5 9.2,9.5 C9.5,6 10.5,3.5 13,3.5 Z" fill="#6e52be"/>
<path d="M13,3.5 C15.5,3.5 17.5,6 17.8,9.5 C18,11.5 19.5,12.5 22,13 C25,13.5 26.5,15 26,17.5 C25.5,20 24,22 23.8,26 C23.6,31 24.2,36 25,40 C26.5,44 27.8,47 27.3,50.5 C26.8,54 24,56.5 21,58 C18,59.5 16,60 13.5,60 C11,60 8.5,59.5 6,58 C3,56.5 0.6,54 0.4,50.5 C0.2,47 1.5,44 3,40 C3.8,36 4.2,31 4,26 C3.8,22 2.2,20 1.5,17.5 C1,15 2.5,13.5 5.5,13 C8,12.5 9,11.5 9.2,9.5 C9.5,6 10.5,3.5 13,3.5 Z" fill="#3a52b0" transform="translate(13.8,33) scale(0.88,0.9) translate(-13.8,-33)" filter="url(#b1)"/></g>
<g filter="url(#wob)">
<ellipse cx="14.5" cy="43" rx="10" ry="15" fill="#40c0ec" filter="url(#b1)"/>
<ellipse cx="3" cy="47.5" rx="3.2" ry="3.2" fill="#40c0ec" filter="url(#b1)"/>
<ellipse cx="24.5" cy="46" rx="3.2" ry="3.2" fill="#40c0ec" filter="url(#b1)"/>
<ellipse cx="12" cy="8" rx="3.3" ry="3.6" fill="#40c0ec" filter="url(#b1)"/>
<ellipse cx="10.5" cy="13" rx="3" ry="2.6" fill="#40c0ec" filter="url(#b1)"/>
<ellipse cx="19.5" cy="34" rx="3.5" ry="5" fill="#40c0ec" filter="url(#b1)"/>
<ellipse cx="14" cy="44" rx="7.5" ry="12.5" fill="#74c043" filter="url(#b1)"/>
<ellipse cx="19" cy="36" rx="2.6" ry="3.5" fill="#74c043" filter="url(#b1)"/>
<ellipse cx="3" cy="47.5" rx="2.1" ry="2.1" fill="#74c043" filter="url(#b1)"/>
<ellipse cx="24.5" cy="46" rx="2.1" ry="2.1" fill="#74c043" filter="url(#b1)"/>
<ellipse cx="12" cy="7.5" rx="2" ry="2" fill="#74c043" filter="url(#b1)"/>
<ellipse cx="10.5" cy="13" rx="2" ry="1.7" fill="#74c043" filter="url(#b1)"/>
<ellipse cx="9.8" cy="34.5" rx="2.4" ry="4.2" fill="#e2e028" filter="url(#b1)"/>
<ellipse cx="13.5" cy="45" rx="1.8" ry="5" fill="#e2e028" filter="url(#b1)" transform="rotate(10 13.5 45)"/>
<ellipse cx="9.4" cy="33" rx="1.1" ry="2.2" fill="#ec2424" filter="url(#b0)"/>
</g>
</g></g>
<clipPath id="c2"><rect x="41.80" y="358.50" width="28.60" height="72.50"/></clipPath>
<g clip-path="url(#c2)">
<rect x="41.80" y="358.50" width="28.60" height="72.50" fill="#0c0c0c"/>
<rect x="44.30" y="358.50" width="0.9" height="16" fill="url(#stripe)" opacity="0.5"/>
<rect x="48.30" y="358.50" width="0.9" height="16" fill="url(#stripe)" opacity="0.5"/>
<rect x="52.30" y="358.50" width="0.9" height="16" fill="url(#stripe)" opacity="0.5"/>
<rect x="57.30" y="358.50" width="0.9" height="16" fill="url(#stripe)" opacity="0.5"/>
<rect x="61.30" y="358.50" width="0.9" height="16" fill="url(#stripe)" opacity="0.5"/>
<rect x="65.30" y="358.50" width="0.9" height="16" fill="url(#stripe)" opacity="0.5"/>
<rect x="68.60" y="358.50" width="0.9" height="16" fill="url(#stripe)" opacity="0.5"/>
<ellipse cx="56.10" cy="361.50" rx="3.5" ry="7" fill="#4a4a4a" opacity="0.6" filter="url(#b2)"/>
<g transform="translate(41.80,358.50)">
<path d="M13.5,57 L13.8,72.5" stroke="#a0a0a0" stroke-width="1.3" fill="none"/>
<path d="M5,56 C4,60 3,62 1.5,64 M22.5,56 C24,60 25.5,62 27,64" stroke="#6e52be" stroke-width="2" fill="none" filter="url(#b0)"/>
<g filter="url(#wob2)"><path d="M13,3.5 C15.5,3.5 17.5,6 17.8,9.5 C18,11.5 19.5,12.5 22,13 C25,13.5 26.5,15 26,17.5 C25.5,20 24,22 23.8,26 C23.6,31 24.2,36 25,40 C26.5,44 27.8,47 27.3,50.5 C26.8,54 24,56.5 21,58 C18,59.5 16,60 13.5,60 C11,60 8.5,59.5 6,58 C3,56.5 0.6,54 0.4,50.5 C0.2,47 1.5,44 3,40 C3.8,36 4.2,31 4,26 C3.8,22 2.2,20 1.5,17.5 C1,15 2.5,13.5 5.5,13 C8,12.5 9,11.5 9.2,9.5 C9.5,6 10.5,3.5 13,3.5 Z" fill="#6e52be"/>
<path d="M13,3.5 C15.5,3.5 17.5,6 17.8,9.5 C18,11.5 19.5,12.5 22,13 C25,13.5 26.5,15 26,17.5 C25.5,20 24,22 23.8,26 C23.6,31 24.2,36 25,40 C26.5,44 27.8,47 27.3,50.5 C26.8,54 24,56.5 21,58 C18,59.5 16,60 13.5,60 C11,60 8.5,59.5 6,58 C3,56.5 0.6,54 0.4,50.5 C0.2,47 1.5,44 3,40 C3.8,36 4.2,31 4,26 C3.8,22 2.2,20 1.5,17.5 C1,15 2.5,13.5 5.5,13 C8,12.5 9,11.5 9.2,9.5 C9.5,6 10.5,3.5 13,3.5 Z" fill="#3a52b0" transform="translate(13.8,33) scale(0.88,0.9) translate(-13.8,-33)" filter="url(#b1)"/></g>
<g filter="url(#wob)">
<ellipse cx="14" cy="42" rx="11.5" ry="17.5" fill="#40c0ec" filter="url(#b1)"/>
<ellipse cx="6.5" cy="21.5" rx="2.4" ry="3.2" fill="#40c0ec" filter="url(#b1)"/>
<ellipse cx="21.5" cy="21.5" rx="2.4" ry="3.2" fill="#40c0ec" filter="url(#b1)"/>
<ellipse cx="14" cy="11.5" rx="5.8" ry="7" fill="#40c0ec" filter="url(#b1)"/>
<ellipse cx="2.5" cy="50" rx="3.6" ry="3.6" fill="#40c0ec" filter="url(#b1)"/>
<ellipse cx="26" cy="50" rx="3.6" ry="3.6" fill="#40c0ec" filter="url(#b1)"/>
<ellipse cx="14" cy="43" rx="9.2" ry="15.5" fill="#74c043" filter="url(#b1)"/>
<ellipse cx="14" cy="11.5" rx="4.6" ry="5.2" fill="#74c043" filter="url(#b1)"/>
<ellipse cx="2.5" cy="50" rx="2.9" ry="2.9" fill="#74c043" filter="url(#b1)"/>
<ellipse cx="26" cy="50" rx="2.9" ry="2.9" fill="#74c043" filter="url(#b1)"/>
<ellipse cx="8" cy="25" rx="1.5" ry="2" fill="#74c043" filter="url(#b1)"/>
<ellipse cx="14.5" cy="43" rx="6.2" ry="14.5" fill="#e2e028" filter="url(#b1)"/>
<ellipse cx="14" cy="12.8" rx="3.6" ry="3.2" fill="#e2e028" filter="url(#b1)"/>
<ellipse cx="2.5" cy="50" rx="2.3" ry="2.3" fill="#e2e028" filter="url(#b1)"/>
<ellipse cx="26" cy="50" rx="2.3" ry="2.3" fill="#e2e028" filter="url(#b1)"/>
<ellipse cx="14.6" cy="43" rx="3.7" ry="13.8" fill="#ec2424" filter="url(#b0)"/>
<ellipse cx="14.3" cy="13.8" rx="2.6" ry="2.1" fill="#ec2424" filter="url(#b0)"/>
<ellipse cx="14" cy="7.5" rx="0.8" ry="1.3" fill="#ec2424" filter="url(#b0)"/>
<ellipse cx="2.5" cy="50" rx="1.7" ry="1.7" fill="#ec2424" filter="url(#b0)"/>
<ellipse cx="26" cy="50" rx="1.7" ry="1.7" fill="#ec2424" filter="url(#b0)"/>
</g>
</g></g>
<clipPath id="c3"><rect x="76.60" y="358.50" width="28.60" height="72.50"/></clipPath>
<g clip-path="url(#c3)">
<rect x="76.60" y="358.50" width="28.60" height="72.50" fill="#0c0c0c"/>
<rect x="79.10" y="358.50" width="0.9" height="16" fill="url(#stripe)" opacity="0.5"/>
<rect x="83.10" y="358.50" width="0.9" height="16" fill="url(#stripe)" opacity="0.5"/>
<rect x="87.10" y="358.50" width="0.9" height="16" fill="url(#stripe)" opacity="0.5"/>
<rect x="92.10" y="358.50" width="0.9" height="16" fill="url(#stripe)" opacity="0.5"/>
<rect x="96.10" y="358.50" width="0.9" height="16" fill="url(#stripe)" opacity="0.5"/>
<rect x="100.10" y="358.50" width="0.9" height="16" fill="url(#stripe)" opacity="0.5"/>
<rect x="103.40" y="358.50" width="0.9" height="16" fill="url(#stripe)" opacity="0.5"/>
<ellipse cx="90.90" cy="361.50" rx="3.5" ry="7" fill="#4a4a4a" opacity="0.6" filter="url(#b2)"/>
<g transform="translate(76.60,358.50)">
<path d="M13.5,57 L13.8,72.5" stroke="#a0a0a0" stroke-width="1.3" fill="none"/>
<g filter="url(#wob2)"><g transform="translate(0,3.5) scale(1,0.94)"><path d="M13,3.5 C15.5,3.5 17.5,6 17.8,9.5 C18,11.5 19.5,12.5 22,13 C25,13.5 26.5,15 26,17.5 C25.5,20 24,22 23.8,26 C23.6,31 24.2,36 25,40 C26.5,44 27.8,47 27.3,50.5 C26.8,54 24,56.5 21,58 C18,59.5 16,60 13.5,60 C11,60 8.5,59.5 6,58 C3,56.5 0.6,54 0.4,50.5 C0.2,47 1.5,44 3,40 C3.8,36 4.2,31 4,26 C3.8,22 2.2,20 1.5,17.5 C1,15 2.5,13.5 5.5,13 C8,12.5 9,11.5 9.2,9.5 C9.5,6 10.5,3.5 13,3.5 Z" fill="#7656c6"/>
<path d="M13,3.5 C15.5,3.5 17.5,6 17.8,9.5 C18,11.5 19.5,12.5 22,13 C25,13.5 26.5,15 26,17.5 C25.5,20 24,22 23.8,26 C23.6,31 24.2,36 25,40 C26.5,44 27.8,47 27.3,50.5 C26.8,54 24,56.5 21,58 C18,59.5 16,60 13.5,60 C11,60 8.5,59.5 6,58 C3,56.5 0.6,54 0.4,50.5 C0.2,47 1.5,44 3,40 C3.8,36 4.2,31 4,26 C3.8,22 2.2,20 1.5,17.5 C1,15 2.5,13.5 5.5,13 C8,12.5 9,11.5 9.2,9.5 C9.5,6 10.5,3.5 13,3.5 Z" fill="#5252bc" transform="translate(13.8,33) scale(0.88,0.9) translate(-13.8,-33)" filter="url(#b1)"/></g></g>
<g filter="url(#wob)">
<ellipse cx="13" cy="40" rx="5" ry="12" fill="#3f5ad8" filter="url(#b2)"/>
<ellipse cx="13.5" cy="36" rx="2" ry="5" fill="#40c0ec" filter="url(#b1)"/>
<ellipse cx="14" cy="45" rx="3" ry="3.5" fill="#40c0ec" filter="url(#b1)"/>
<ellipse cx="12.5" cy="41" rx="1.5" ry="2.5" fill="#3fd0f0" filter="url(#b1)"/>
<ellipse cx="10.5" cy="11" rx="2.20" ry="2.20" fill="#40c0ec" filter="url(#b1)"/>
<ellipse cx="10.5" cy="11" rx="1.72" ry="1.72" fill="#74c043" filter="url(#b1)"/>
<ellipse cx="3.5" cy="45" rx="1.5" ry="1.5" fill="#40c0ec" filter="url(#b1)"/>
<ellipse cx="23" cy="44" rx="1.3" ry="1.3" fill="#40c0ec" filter="url(#b1)"/>
</g>
</g></g>
<clipPath id="c4"><rect x="107.10" y="358.50" width="28.60" height="72.50"/></clipPath>
<g clip-path="url(#c4)">
<rect x="107.10" y="358.50" width="28.60" height="72.50" fill="#0c0c0c"/>
<rect x="109.60" y="358.50" width="0.9" height="16" fill="url(#stripe)" opacity="0.5"/>
<rect x="113.60" y="358.50" width="0.9" height="16" fill="url(#stripe)" opacity="0.5"/>
<rect x="117.60" y="358.50" width="0.9" height="16" fill="url(#stripe)" opacity="0.5"/>
<rect x="122.60" y="358.50" width="0.9" height="16" fill="url(#stripe)" opacity="0.5"/>
<rect x="126.60" y="358.50" width="0.9" height="16" fill="url(#stripe)" opacity="0.5"/>
<rect x="130.60" y="358.50" width="0.9" height="16" fill="url(#stripe)" opacity="0.5"/>
<rect x="133.90" y="358.50" width="0.9" height="16" fill="url(#stripe)" opacity="0.5"/>
<ellipse cx="121.40" cy="361.50" rx="3.5" ry="7" fill="#4a4a4a" opacity="0.6" filter="url(#b2)"/>
<g transform="translate(107.10,358.50)">
<path d="M13.5,57 L13.8,72.5" stroke="#a0a0a0" stroke-width="1.3" fill="none"/>
<g filter="url(#wob2)"><g transform="translate(0,3.5) scale(1,0.94)"><path d="M13,3.5 C15.5,3.5 17.5,6 17.8,9.5 C18,11.5 19.5,12.5 22,13 C25,13.5 26.5,15 26,17.5 C25.5,20 24,22 23.8,26 C23.6,31 24.2,36 25,40 C26.5,44 27.8,47 27.3,50.5 C26.8,54 24,56.5 21,58 C18,59.5 16,60 13.5,60 C11,60 8.5,59.5 6,58 C3,56.5 0.6,54 0.4,50.5 C0.2,47 1.5,44 3,40 C3.8,36 4.2,31 4,26 C3.8,22 2.2,20 1.5,17.5 C1,15 2.5,13.5 5.5,13 C8,12.5 9,11.5 9.2,9.5 C9.5,6 10.5,3.5 13,3.5 Z" fill="#7656c6"/>
<path d="M13,3.5 C15.5,3.5 17.5,6 17.8,9.5 C18,11.5 19.5,12.5 22,13 C25,13.5 26.5,15 26,17.5 C25.5,20 24,22 23.8,26 C23.6,31 24.2,36 25,40 C26.5,44 27.8,47 27.3,50.5 C26.8,54 24,56.5 21,58 C18,59.5 16,60 13.5,60 C11,60 8.5,59.5 6,58 C3,56.5 0.6,54 0.4,50.5 C0.2,47 1.5,44 3,40 C3.8,36 4.2,31 4,26 C3.8,22 2.2,20 1.5,17.5 C1,15 2.5,13.5 5.5,13 C8,12.5 9,11.5 9.2,9.5 C9.5,6 10.5,3.5 13,3.5 Z" fill="#5252bc" transform="translate(13.8,33) scale(0.88,0.9) translate(-13.8,-33)" filter="url(#b1)"/></g></g>
<g filter="url(#wob)">
<ellipse cx="13" cy="38" rx="5" ry="13" fill="#4058d4" filter="url(#b2)"/>
<ellipse cx="11.5" cy="34" rx="1.2" ry="3.5" fill="#35a4e4" filter="url(#b1)"/>
<ellipse cx="10" cy="12" rx="1.5" ry="1.5" fill="#4aa0e6" filter="url(#b1)"/>
<ellipse cx="14" cy="50" rx="1.2" ry="1.5" fill="#40c0ec" filter="url(#b1)"/>
<ellipse cx="3" cy="47" rx="1.2" ry="1.2" fill="#4aa0e6" filter="url(#b1)"/>
</g>
</g></g>
<clipPath id="c5"><rect x="143.20" y="358.50" width="28.60" height="72.50"/></clipPath>
<g clip-path="url(#c5)">
<rect x="143.20" y="358.50" width="28.60" height="72.50" fill="#0c0c0c"/>
<rect x="145.70" y="358.50" width="0.9" height="16" fill="url(#stripe)" opacity="0.5"/>
<rect x="149.70" y="358.50" width="0.9" height="16" fill="url(#stripe)" opacity="0.5"/>
<rect x="153.70" y="358.50" width="0.9" height="16" fill="url(#stripe)" opacity="0.5"/>
<rect x="158.70" y="358.50" width="0.9" height="16" fill="url(#stripe)" opacity="0.5"/>
<rect x="162.70" y="358.50" width="0.9" height="16" fill="url(#stripe)" opacity="0.5"/>
<rect x="166.70" y="358.50" width="0.9" height="16" fill="url(#stripe)" opacity="0.5"/>
<rect x="170.00" y="358.50" width="0.9" height="16" fill="url(#stripe)" opacity="0.5"/>
<ellipse cx="157.50" cy="361.50" rx="3.5" ry="7" fill="#4a4a4a" opacity="0.6" filter="url(#b2)"/>
<g transform="translate(143.20,358.50)">
<rect x="11.5" y="0" width="4" height="10" fill="#5a5a5a" opacity="0.6" filter="url(#b1)"/>
<path d="M18.5,56 C18.8,62 19,67 19.3,72.5" stroke="#b8b8b8" stroke-width="1.6" fill="none"/>
<path d="M6,55 C4.5,57.5 3,58.5 1,59 M22,55 C23.5,57.5 25,58.5 27.5,59" stroke="#b4b4b4" stroke-width="1.8" fill="none" stroke-linecap="round"/>
<g filter="url(#wob2)"><path d="M13.5,5 C16,5 17.8,7.5 18.5,10 C20,11.5 21.5,11.5 23,12.5 C24.5,13.5 24.5,16 24,18 C25.5,24 26.5,32 26.5,40 C26.5,47 25.5,53 22.5,56.5 C20,58.5 17,59 14.5,59 C11,59 7,58.5 4.8,56 C2.5,53 2.2,46 2.5,39 C2.8,32 3.2,24 4,19 C2.5,18.5 0.3,17 0,15.5 C-0.2,14 2,13.5 4.5,13.5 C6.5,13 8,11.5 9,9.5 C10,7 11.5,5 13.5,5 Z" fill="url(#wg)"/></g>
<ellipse cx="13.6" cy="10.5" rx="4.2" ry="5" fill="#c4c4c4" filter="url(#b1)"/>
<ellipse cx="14.5" cy="15.5" rx="2.4" ry="2.6" fill="#a4a4a4" opacity="0.8" filter="url(#b1)"/>
<ellipse cx="9" cy="21" rx="5" ry="4" fill="#f2f2f2" opacity="0.85" filter="url(#b2)"/>
<ellipse cx="15" cy="38" rx="8" ry="12" fill="#e6e6e6" opacity="0.5" filter="url(#b3)"/>
<ellipse cx="22" cy="30" rx="2" ry="9" fill="#c4c4c4" opacity="0.6" filter="url(#b2)"/>
<path d="M13.5,5 C16,5 17.8,7.5 18.5,10 C20,11.5 21.5,11.5 23,12.5 C24.5,13.5 24.5,16 24,18 C25.5,24 26.5,32 26.5,40 C26.5,47 25.5,53 22.5,56.5 C20,58.5 17,59 14.5,59 C11,59 7,58.5 4.8,56 C2.5,53 2.2,46 2.5,39 C2.8,32 3.2,24 4,19 C2.5,18.5 0.3,17 0,15.5 C-0.2,14 2,13.5 4.5,13.5 C6.5,13 8,11.5 9,9.5 C10,7 11.5,5 13.5,5 Z" fill="#888" opacity="0.35" filter="url(#fur)"/>
<ellipse cx="8.5" cy="31.5" rx="1.6" ry="1.5" fill="#5a3fd0" filter="url(#b0)"/>
</g></g>
<clipPath id="c6"><rect x="173.40" y="358.50" width="28.60" height="72.50"/></clipPath>
<g clip-path="url(#c6)">
<rect x="173.40" y="358.50" width="28.60" height="72.50" fill="#0c0c0c"/>
<rect x="175.90" y="358.50" width="0.9" height="16" fill="url(#stripe)" opacity="0.5"/>
<rect x="179.90" y="358.50" width="0.9" height="16" fill="url(#stripe)" opacity="0.5"/>
<rect x="183.90" y="358.50" width="0.9" height="16" fill="url(#stripe)" opacity="0.5"/>
<rect x="188.90" y="358.50" width="0.9" height="16" fill="url(#stripe)" opacity="0.5"/>
<rect x="192.90" y="358.50" width="0.9" height="16" fill="url(#stripe)" opacity="0.5"/>
<rect x="196.90" y="358.50" width="0.9" height="16" fill="url(#stripe)" opacity="0.5"/>
<rect x="200.20" y="358.50" width="0.9" height="16" fill="url(#stripe)" opacity="0.5"/>
<ellipse cx="187.70" cy="361.50" rx="3.5" ry="7" fill="#4a4a4a" opacity="0.6" filter="url(#b2)"/>
<g transform="translate(173.40,358.50)">
<rect x="11.5" y="0" width="4" height="10" fill="#5a5a5a" opacity="0.6" filter="url(#b1)"/>
<path d="M18.5,56 C18.8,62 19,67 19.3,72.5" stroke="#b8b8b8" stroke-width="1.6" fill="none"/>
<path d="M6,55 C4.5,57.5 3,58.5 1,59 M22,55 C23.5,57.5 25,58.5 27.5,59" stroke="#b4b4b4" stroke-width="1.8" fill="none" stroke-linecap="round"/>
<g filter="url(#wob2)"><path d="M13.5,5 C16,5 17.8,7.5 18.5,10 C20,11.5 21.5,11.5 23,12.5 C24.5,13.5 24.5,16 24,18 C25.5,24 26.5,32 26.5,40 C26.5,47 25.5,53 22.5,56.5 C20,58.5 17,59 14.5,59 C11,59 7,58.5 4.8,56 C2.5,53 2.2,46 2.5,39 C2.8,32 3.2,24 4,19 C2.5,18.5 0.3,17 0,15.5 C-0.2,14 2,13.5 4.5,13.5 C6.5,13 8,11.5 9,9.5 C10,7 11.5,5 13.5,5 Z" fill="url(#wg)"/></g>
<ellipse cx="13.6" cy="10.5" rx="4.2" ry="5" fill="#c4c4c4" filter="url(#b1)"/>
<ellipse cx="14.5" cy="15.5" rx="2.4" ry="2.6" fill="#a4a4a4" opacity="0.8" filter="url(#b1)"/>
<ellipse cx="9" cy="21" rx="5" ry="4" fill="#f2f2f2" opacity="0.85" filter="url(#b2)"/>
<ellipse cx="15" cy="38" rx="8" ry="12" fill="#e6e6e6" opacity="0.5" filter="url(#b3)"/>
<ellipse cx="22" cy="30" rx="2" ry="9" fill="#c4c4c4" opacity="0.6" filter="url(#b2)"/>
<path d="M13.5,5 C16,5 17.8,7.5 18.5,10 C20,11.5 21.5,11.5 23,12.5 C24.5,13.5 24.5,16 24,18 C25.5,24 26.5,32 26.5,40 C26.5,47 25.5,53 22.5,56.5 C20,58.5 17,59 14.5,59 C11,59 7,58.5 4.8,56 C2.5,53 2.2,46 2.5,39 C2.8,32 3.2,24 4,19 C2.5,18.5 0.3,17 0,15.5 C-0.2,14 2,13.5 4.5,13.5 C6.5,13 8,11.5 9,9.5 C10,7 11.5,5 13.5,5 Z" fill="#888" opacity="0.35" filter="url(#fur)"/>
</g></g>
<clipPath id="c7"><rect x="209.20" y="358.50" width="28.60" height="72.50"/></clipPath>
<g clip-path="url(#c7)">
<rect x="209.20" y="358.50" width="28.60" height="72.50" fill="#0c0c0c"/>
<rect x="211.70" y="358.50" width="0.9" height="16" fill="url(#stripe)" opacity="0.5"/>
<rect x="215.70" y="358.50" width="0.9" height="16" fill="url(#stripe)" opacity="0.5"/>
<rect x="219.70" y="358.50" width="0.9" height="16" fill="url(#stripe)" opacity="0.5"/>
<rect x="224.70" y="358.50" width="0.9" height="16" fill="url(#stripe)" opacity="0.5"/>
<rect x="228.70" y="358.50" width="0.9" height="16" fill="url(#stripe)" opacity="0.5"/>
<rect x="232.70" y="358.50" width="0.9" height="16" fill="url(#stripe)" opacity="0.5"/>
<rect x="236.00" y="358.50" width="0.9" height="16" fill="url(#stripe)" opacity="0.5"/>
<ellipse cx="223.50" cy="361.50" rx="3.5" ry="7" fill="#4a4a4a" opacity="0.6" filter="url(#b2)"/>
<g transform="translate(209.20,358.50)">
<path d="M13.5,57 L13.8,72.5" stroke="#a0a0a0" stroke-width="1.3" fill="none"/>
<g filter="url(#wob2)"><path d="M13,3.5 C15.5,3.5 17.5,6 17.8,9.5 C18,11.5 19.5,12.5 22,13 C25,13.5 26.5,15 26,17.5 C25.5,20 24,22 23.8,26 C23.6,31 24.2,36 25,40 C26.5,44 27.8,47 27.3,50.5 C26.8,54 24,56.5 21,58 C18,59.5 16,60 13.5,60 C11,60 8.5,59.5 6,58 C3,56.5 0.6,54 0.4,50.5 C0.2,47 1.5,44 3,40 C3.8,36 4.2,31 4,26 C3.8,22 2.2,20 1.5,17.5 C1,15 2.5,13.5 5.5,13 C8,12.5 9,11.5 9.2,9.5 C9.5,6 10.5,3.5 13,3.5 Z" fill="#6e52be"/>
<path d="M13,3.5 C15.5,3.5 17.5,6 17.8,9.5 C18,11.5 19.5,12.5 22,13 C25,13.5 26.5,15 26,17.5 C25.5,20 24,22 23.8,26 C23.6,31 24.2,36 25,40 C26.5,44 27.8,47 27.3,50.5 C26.8,54 24,56.5 21,58 C18,59.5 16,60 13.5,60 C11,60 8.5,59.5 6,58 C3,56.5 0.6,54 0.4,50.5 C0.2,47 1.5,44 3,40 C3.8,36 4.2,31 4,26 C3.8,22 2.2,20 1.5,17.5 C1,15 2.5,13.5 5.5,13 C8,12.5 9,11.5 9.2,9.5 C9.5,6 10.5,3.5 13,3.5 Z" fill="#3a52b0" transform="translate(13.8,33) scale(0.88,0.9) translate(-13.8,-33)" filter="url(#b1)"/></g>
<g filter="url(#wob)">
<ellipse cx="15" cy="42" rx="9.8" ry="14.8" fill="#40c0ec" filter="url(#b1)"/>
<ellipse cx="10" cy="13.5" rx="3.6" ry="3.2" fill="#40c0ec" filter="url(#b1)"/>
<ellipse cx="12" cy="7.5" rx="2.8" ry="2.5" fill="#40c0ec" filter="url(#b1)"/>
<ellipse cx="18.5" cy="21" rx="2.8" ry="2.2" fill="#40c0ec" filter="url(#b1)"/>
<ellipse cx="24" cy="19" rx="2" ry="1.6" fill="#40c0ec" filter="url(#b1)"/>
<ellipse cx="5" cy="48.5" rx="3" ry="3" fill="#40c0ec" filter="url(#b1)"/>
<ellipse cx="26" cy="44" rx="2.6" ry="2.6" fill="#40c0ec" filter="url(#b1)"/>
<ellipse cx="14.5" cy="43" rx="7.6" ry="12.8" fill="#74c043" filter="url(#b1)"/>
<ellipse cx="10" cy="13.5" rx="2.6" ry="2.3" fill="#74c043" filter="url(#b1)"/>
<ellipse cx="12" cy="7.5" rx="2" ry="1.8" fill="#74c043" filter="url(#b1)"/>
<ellipse cx="5" cy="48.5" rx="2.3" ry="2.3" fill="#74c043" filter="url(#b1)"/>
<ellipse cx="26" cy="44" rx="2" ry="2" fill="#74c043" filter="url(#b1)"/>
<ellipse cx="13" cy="37" rx="3.8" ry="8.5" fill="#e2e028" filter="url(#b1)" transform="rotate(-12 13 37)"/>
<ellipse cx="10" cy="13.5" rx="1.8" ry="1.6" fill="#e2e028" filter="url(#b1)"/>
<ellipse cx="15.5" cy="16" rx="1" ry="1" fill="#e2e028" filter="url(#b1)"/>
<ellipse cx="5" cy="48.5" rx="1.4" ry="1.4" fill="#e2e028" filter="url(#b1)"/>
<ellipse cx="12.8" cy="36.5" rx="2.3" ry="6.8" fill="#ec2424" filter="url(#b0)" transform="rotate(-12 12.8 36.5)"/>
<ellipse cx="10" cy="13.5" rx="1" ry="1" fill="#ec2424" filter="url(#b0)"/>
</g>
</g></g>
<clipPath id="c8"><rect x="239.40" y="358.50" width="27.20" height="72.50"/></clipPath>
<g clip-path="url(#c8)">
<rect x="239.40" y="358.50" width="27.20" height="72.50" fill="#0c0c0c"/>
<rect x="241.90" y="358.50" width="0.9" height="16" fill="url(#stripe)" opacity="0.5"/>
<rect x="245.90" y="358.50" width="0.9" height="16" fill="url(#stripe)" opacity="0.5"/>
<rect x="249.90" y="358.50" width="0.9" height="16" fill="url(#stripe)" opacity="0.5"/>
<rect x="254.90" y="358.50" width="0.9" height="16" fill="url(#stripe)" opacity="0.5"/>
<rect x="258.90" y="358.50" width="0.9" height="16" fill="url(#stripe)" opacity="0.5"/>
<rect x="262.90" y="358.50" width="0.9" height="16" fill="url(#stripe)" opacity="0.5"/>
<rect x="266.20" y="358.50" width="0.9" height="16" fill="url(#stripe)" opacity="0.5"/>
<ellipse cx="253.00" cy="361.50" rx="3.5" ry="7" fill="#4a4a4a" opacity="0.6" filter="url(#b2)"/>
<g transform="translate(239.40,358.50)">
<path d="M13.5,57 L13.8,72.5" stroke="#a0a0a0" stroke-width="1.3" fill="none"/>
<g filter="url(#wob2)"><path d="M13,3.5 C15.5,3.5 17.5,6 17.8,9.5 C18,11.5 19.5,12.5 22,13 C25,13.5 26.5,15 26,17.5 C25.5,20 24,22 23.8,26 C23.6,31 24.2,36 25,40 C26.5,44 27.8,47 27.3,50.5 C26.8,54 24,56.5 21,58 C18,59.5 16,60 13.5,60 C11,60 8.5,59.5 6,58 C3,56.5 0.6,54 0.4,50.5 C0.2,47 1.5,44 3,40 C3.8,36 4.2,31 4,26 C3.8,22 2.2,20 1.5,17.5 C1,15 2.5,13.5 5.5,13 C8,12.5 9,11.5 9.2,9.5 C9.5,6 10.5,3.5 13,3.5 Z" fill="#6e52be"/>
<path d="M13,3.5 C15.5,3.5 17.5,6 17.8,9.5 C18,11.5 19.5,12.5 22,13 C25,13.5 26.5,15 26,17.5 C25.5,20 24,22 23.8,26 C23.6,31 24.2,36 25,40 C26.5,44 27.8,47 27.3,50.5 C26.8,54 24,56.5 21,58 C18,59.5 16,60 13.5,60 C11,60 8.5,59.5 6,58 C3,56.5 0.6,54 0.4,50.5 C0.2,47 1.5,44 3,40 C3.8,36 4.2,31 4,26 C3.8,22 2.2,20 1.5,17.5 C1,15 2.5,13.5 5.5,13 C8,12.5 9,11.5 9.2,9.5 C9.5,6 10.5,3.5 13,3.5 Z" fill="#3a52b0" transform="translate(13.8,33) scale(0.88,0.9) translate(-13.8,-33)" filter="url(#b1)"/></g>
<g filter="url(#wob)">
<ellipse cx="13.5" cy="42" rx="10.3" ry="15" fill="#40c0ec" filter="url(#b1)"/>
<ellipse cx="12.7" cy="8.3" rx="3" ry="3" fill="#40c0ec" filter="url(#b1)"/>
<ellipse cx="12.7" cy="15.5" rx="3.6" ry="3" fill="#40c0ec" filter="url(#b1)"/>
<ellipse cx="2.2" cy="50" rx="3" ry="3" fill="#40c0ec" filter="url(#b1)"/>
<ellipse cx="24.5" cy="48.5" rx="2.5" ry="2.5" fill="#40c0ec" filter="url(#b1)"/>
<ellipse cx="13.5" cy="43.5" rx="8" ry="13" fill="#74c043" filter="url(#b1)"/>
<ellipse cx="12.7" cy="8.3" rx="2.2" ry="2.2" fill="#74c043" filter="url(#b1)"/>
<ellipse cx="12.7" cy="15.5" rx="2.6" ry="2.3" fill="#74c043" filter="url(#b1)"/>
<ellipse cx="2.2" cy="50" rx="2.2" ry="2.2" fill="#74c043" filter="url(#b1)"/>
<ellipse cx="24.5" cy="48.5" rx="1.8" ry="1.8" fill="#74c043" filter="url(#b1)"/>
<ellipse cx="13" cy="38.5" rx="4.5" ry="9" fill="#e2e028" filter="url(#b1)"/>
<ellipse cx="12.7" cy="15.5" rx="1.5" ry="1.3" fill="#e2e028" filter="url(#b1)"/>
<ellipse cx="2.2" cy="50" rx="1.7" ry="1.7" fill="#e2e028" filter="url(#b1)"/>
<ellipse cx="20" cy="36.5" rx="1.6" ry="1.6" fill="#e2e028" filter="url(#b1)"/>
<ellipse cx="13" cy="37.5" rx="2.6" ry="7.2" fill="#ec2424" filter="url(#b0)"/>
<ellipse cx="20" cy="36.5" rx="1" ry="1" fill="#ec2424" filter="url(#b0)"/>
<ellipse cx="2.2" cy="50" rx="1" ry="1" fill="#ec2424" filter="url(#b0)"/>
</g>
</g></g>
<clipPath id="c9"><rect x="32.00" y="448.50" width="28.60" height="72.50"/></clipPath>
<g clip-path="url(#c9)">
<rect x="32.00" y="448.50" width="28.60" height="72.50" fill="#0c0c0c"/>
<rect x="34.50" y="448.50" width="0.9" height="16" fill="url(#stripe)" opacity="0.5"/>
<rect x="38.50" y="448.50" width="0.9" height="16" fill="url(#stripe)" opacity="0.5"/>
<rect x="42.50" y="448.50" width="0.9" height="16" fill="url(#stripe)" opacity="0.5"/>
<rect x="47.50" y="448.50" width="0.9" height="16" fill="url(#stripe)" opacity="0.5"/>
<rect x="51.50" y="448.50" width="0.9" height="16" fill="url(#stripe)" opacity="0.5"/>
<rect x="55.50" y="448.50" width="0.9" height="16" fill="url(#stripe)" opacity="0.5"/>
<rect x="58.80" y="448.50" width="0.9" height="16" fill="url(#stripe)" opacity="0.5"/>
<ellipse cx="46.30" cy="451.50" rx="3.5" ry="7" fill="#4a4a4a" opacity="0.6" filter="url(#b2)"/>
<g transform="translate(32.00,448.50)">
<path d="M13.5,57 L13.8,72.5" stroke="#a0a0a0" stroke-width="1.3" fill="none"/>
<g filter="url(#wob2)"><g transform=""><path d="M13,3.5 C15.5,3.5 17.5,6 17.8,9.5 C18,11.5 19.5,12.5 22,13 C25,13.5 26.5,15 26,17.5 C25.5,20 24,22 23.8,26 C23.6,31 24.2,36 25,40 C26.5,44 27.8,47 27.3,50.5 C26.8,54 24,56.5 21,58 C18,59.5 16,60 13.5,60 C11,60 8.5,59.5 6,58 C3,56.5 0.6,54 0.4,50.5 C0.2,47 1.5,44 3,40 C3.8,36 4.2,31 4,26 C3.8,22 2.2,20 1.5,17.5 C1,15 2.5,13.5 5.5,13 C8,12.5 9,11.5 9.2,9.5 C9.5,6 10.5,3.5 13,3.5 Z" fill="#6e52be"/>
<path d="M13,3.5 C15.5,3.5 17.5,6 17.8,9.5 C18,11.5 19.5,12.5 22,13 C25,13.5 26.5,15 26,17.5 C25.5,20 24,22 23.8,26 C23.6,31 24.2,36 25,40 C26.5,44 27.8,47 27.3,50.5 C26.8,54 24,56.5 21,58 C18,59.5 16,60 13.5,60 C11,60 8.5,59.5 6,58 C3,56.5 0.6,54 0.4,50.5 C0.2,47 1.5,44 3,40 C3.8,36 4.2,31 4,26 C3.8,22 2.2,20 1.5,17.5 C1,15 2.5,13.5 5.5,13 C8,12.5 9,11.5 9.2,9.5 C9.5,6 10.5,3.5 13,3.5 Z" fill="#4650b8" transform="translate(13.8,33) scale(0.88,0.9) translate(-13.8,-33)" filter="url(#b1)"/></g></g>
<g filter="url(#wob)">
<ellipse cx="14" cy="35" rx="4" ry="11" fill="#3d58d6" filter="url(#b2)"/>
<ellipse cx="13.5" cy="30" rx="2.60" ry="5.00" fill="#40c0ec" filter="url(#b1)" transform="rotate(10 13.5 30)"/>
<ellipse cx="13.5" cy="30" rx="2.03" ry="3.90" fill="#74c043" filter="url(#b1)" transform="rotate(10 13.5 30)"/>
<ellipse cx="15" cy="38" rx="2.00" ry="4.00" fill="#40c0ec" filter="url(#b1)" transform="rotate(10 15 38)"/>
<ellipse cx="15" cy="38" rx="1.56" ry="3.12" fill="#74c043" filter="url(#b1)" transform="rotate(10 15 38)"/>
<ellipse cx="15" cy="8" rx="2.20" ry="2.20" fill="#40c0ec" filter="url(#b1)"/>
<ellipse cx="15" cy="8" rx="1.72" ry="1.72" fill="#74c043" filter="url(#b1)"/>
<ellipse cx="9.5" cy="15" rx="2.20" ry="2.00" fill="#40c0ec" filter="url(#b1)"/>
<ellipse cx="9.5" cy="15" rx="1.72" ry="1.56" fill="#74c043" filter="url(#b1)"/>
<ellipse cx="16.5" cy="16" rx="1.00" ry="1.00" fill="#40c0ec" filter="url(#b0)"/>
<ellipse cx="6.5" cy="49" rx="2.20" ry="3.00" fill="#40c0ec" filter="url(#b1)"/>
<ellipse cx="6.5" cy="49" rx="1.72" ry="2.34" fill="#74c043" filter="url(#b1)"/>
<ellipse cx="25.5" cy="42.5" rx="1.30" ry="1.60" fill="#40c0ec" filter="url(#b1)"/>
<ellipse cx="17" cy="45" rx="2.20" ry="1.60" fill="#40c0ec" filter="url(#b1)"/>
</g>
</g></g>
<clipPath id="c10"><rect x="62.10" y="448.50" width="28.60" height="72.50"/></clipPath>
<g clip-path="url(#c10)">
<rect x="62.10" y="448.50" width="28.60" height="72.50" fill="#0c0c0c"/>
<rect x="64.60" y="448.50" width="0.9" height="16" fill="url(#stripe)" opacity="0.5"/>
<rect x="68.60" y="448.50" width="0.9" height="16" fill="url(#stripe)" opacity="0.5"/>
<rect x="72.60" y="448.50" width="0.9" height="16" fill="url(#stripe)" opacity="0.5"/>
<rect x="77.60" y="448.50" width="0.9" height="16" fill="url(#stripe)" opacity="0.5"/>
<rect x="81.60" y="448.50" width="0.9" height="16" fill="url(#stripe)" opacity="0.5"/>
<rect x="85.60" y="448.50" width="0.9" height="16" fill="url(#stripe)" opacity="0.5"/>
<rect x="88.90" y="448.50" width="0.9" height="16" fill="url(#stripe)" opacity="0.5"/>
<ellipse cx="76.40" cy="451.50" rx="3.5" ry="7" fill="#4a4a4a" opacity="0.6" filter="url(#b2)"/>
<g transform="translate(62.10,448.50)">
<rect x="11.5" y="0" width="4" height="10" fill="#5a5a5a" opacity="0.6" filter="url(#b1)"/>
<path d="M18.5,56 C18.8,62 19,67 19.3,72.5" stroke="#b8b8b8" stroke-width="1.6" fill="none"/>
<path d="M6,55 C4.5,57.5 3,58.5 1,59 M22,55 C23.5,57.5 25,58.5 27.5,59" stroke="#b4b4b4" stroke-width="1.8" fill="none" stroke-linecap="round"/>
<g filter="url(#wob2)"><path d="M13.5,5 C16,5 17.8,7.5 18.5,10 C20,11.5 21.5,11.5 23,12.5 C24.5,13.5 24.5,16 24,18 C25.5,24 26.5,32 26.5,40 C26.5,47 25.5,53 22.5,56.5 C20,58.5 17,59 14.5,59 C11,59 7,58.5 4.8,56 C2.5,53 2.2,46 2.5,39 C2.8,32 3.2,24 4,19 C2.5,18.5 0.3,17 0,15.5 C-0.2,14 2,13.5 4.5,13.5 C6.5,13 8,11.5 9,9.5 C10,7 11.5,5 13.5,5 Z" fill="url(#wg)"/></g>
<ellipse cx="13.6" cy="10.5" rx="4.2" ry="5" fill="#c4c4c4" filter="url(#b1)"/>
<ellipse cx="14.5" cy="15.5" rx="2.4" ry="2.6" fill="#a4a4a4" opacity="0.8" filter="url(#b1)"/>
<ellipse cx="9" cy="21" rx="5" ry="4" fill="#f2f2f2" opacity="0.85" filter="url(#b2)"/>
<ellipse cx="15" cy="38" rx="8" ry="12" fill="#e6e6e6" opacity="0.5" filter="url(#b3)"/>
<ellipse cx="22" cy="30" rx="2" ry="9" fill="#c4c4c4" opacity="0.6" filter="url(#b2)"/>
<path d="M13.5,5 C16,5 17.8,7.5 18.5,10 C20,11.5 21.5,11.5 23,12.5 C24.5,13.5 24.5,16 24,18 C25.5,24 26.5,32 26.5,40 C26.5,47 25.5,53 22.5,56.5 C20,58.5 17,59 14.5,59 C11,59 7,58.5 4.8,56 C2.5,53 2.2,46 2.5,39 C2.8,32 3.2,24 4,19 C2.5,18.5 0.3,17 0,15.5 C-0.2,14 2,13.5 4.5,13.5 C6.5,13 8,11.5 9,9.5 C10,7 11.5,5 13.5,5 Z" fill="#888" opacity="0.35" filter="url(#fur)"/>
<ellipse cx="14.5" cy="11" rx="2.5" ry="3.2" fill="#6a4cd0" filter="url(#b0)"/>
<ellipse cx="15" cy="34.5" rx="4.2" ry="4" fill="#6a4cd0" filter="url(#b0)"/>
<ellipse cx="20.5" cy="33.5" rx="2.2" ry="2.2" fill="#6a4cd0" filter="url(#b0)"/>
<ellipse cx="3" cy="51" rx="1.8" ry="2" fill="#6a4cd0" filter="url(#b0)"/>
<ellipse cx="26" cy="48.5" rx="1.8" ry="2" fill="#6a4cd0" filter="url(#b0)"/>
<ellipse cx="13.5" cy="45.5" rx="1.2" ry="1.2" fill="#6a4cd0" filter="url(#b0)"/>
</g></g>
<clipPath id="c11"><rect x="97.00" y="448.50" width="28.60" height="72.50"/></clipPath>
<g clip-path="url(#c11)">
<rect x="97.00" y="448.50" width="28.60" height="72.50" fill="#0c0c0c"/>
<rect x="99.50" y="448.50" width="0.9" height="16" fill="url(#stripe)" opacity="0.5"/>
<rect x="103.50" y="448.50" width="0.9" height="16" fill="url(#stripe)" opacity="0.5"/>
<rect x="107.50" y="448.50" width="0.9" height="16" fill="url(#stripe)" opacity="0.5"/>
<rect x="112.50" y="448.50" width="0.9" height="16" fill="url(#stripe)" opacity="0.5"/>
<rect x="116.50" y="448.50" width="0.9" height="16" fill="url(#stripe)" opacity="0.5"/>
<rect x="120.50" y="448.50" width="0.9" height="16" fill="url(#stripe)" opacity="0.5"/>
<rect x="123.80" y="448.50" width="0.9" height="16" fill="url(#stripe)" opacity="0.5"/>
<ellipse cx="111.30" cy="451.50" rx="3.5" ry="7" fill="#4a4a4a" opacity="0.6" filter="url(#b2)"/>
<g transform="translate(97.00,448.50)">
<rect x="11.5" y="0" width="4" height="10" fill="#5a5a5a" opacity="0.6" filter="url(#b1)"/>
<path d="M18.5,56 C18.8,62 19,67 19.3,72.5" stroke="#b8b8b8" stroke-width="1.6" fill="none"/>
<path d="M6,55 C4.5,57.5 3,58.5 1,59 M22,55 C23.5,57.5 25,58.5 27.5,59" stroke="#b4b4b4" stroke-width="1.8" fill="none" stroke-linecap="round"/>
<g filter="url(#wob2)"><path d="M13.5,5 C16,5 17.8,7.5 18.5,10 C20,11.5 21.5,11.5 23,12.5 C24.5,13.5 24.5,16 24,18 C25.5,24 26.5,32 26.5,40 C26.5,47 25.5,53 22.5,56.5 C20,58.5 17,59 14.5,59 C11,59 7,58.5 4.8,56 C2.5,53 2.2,46 2.5,39 C2.8,32 3.2,24 4,19 C2.5,18.5 0.3,17 0,15.5 C-0.2,14 2,13.5 4.5,13.5 C6.5,13 8,11.5 9,9.5 C10,7 11.5,5 13.5,5 Z" fill="url(#wg)"/></g>
<ellipse cx="13.6" cy="10.5" rx="4.2" ry="5" fill="#c4c4c4" filter="url(#b1)"/>
<ellipse cx="14.5" cy="15.5" rx="2.4" ry="2.6" fill="#a4a4a4" opacity="0.8" filter="url(#b1)"/>
<ellipse cx="9" cy="21" rx="5" ry="4" fill="#f2f2f2" opacity="0.85" filter="url(#b2)"/>
<ellipse cx="15" cy="38" rx="8" ry="12" fill="#e6e6e6" opacity="0.5" filter="url(#b3)"/>
<ellipse cx="22" cy="30" rx="2" ry="9" fill="#c4c4c4" opacity="0.6" filter="url(#b2)"/>
<path d="M13.5,5 C16,5 17.8,7.5 18.5,10 C20,11.5 21.5,11.5 23,12.5 C24.5,13.5 24.5,16 24,18 C25.5,24 26.5,32 26.5,40 C26.5,47 25.5,53 22.5,56.5 C20,58.5 17,59 14.5,59 C11,59 7,58.5 4.8,56 C2.5,53 2.2,46 2.5,39 C2.8,32 3.2,24 4,19 C2.5,18.5 0.3,17 0,15.5 C-0.2,14 2,13.5 4.5,13.5 C6.5,13 8,11.5 9,9.5 C10,7 11.5,5 13.5,5 Z" fill="#888" opacity="0.35" filter="url(#fur)"/>
</g></g>
<clipPath id="c12"><rect x="127.30" y="448.50" width="28.30" height="72.50"/></clipPath>
<g clip-path="url(#c12)">
<rect x="127.30" y="448.50" width="28.30" height="72.50" fill="#0c0c0c"/>
<rect x="129.80" y="448.50" width="0.9" height="16" fill="url(#stripe)" opacity="0.5"/>
<rect x="133.80" y="448.50" width="0.9" height="16" fill="url(#stripe)" opacity="0.5"/>
<rect x="137.80" y="448.50" width="0.9" height="16" fill="url(#stripe)" opacity="0.5"/>
<rect x="142.80" y="448.50" width="0.9" height="16" fill="url(#stripe)" opacity="0.5"/>
<rect x="146.80" y="448.50" width="0.9" height="16" fill="url(#stripe)" opacity="0.5"/>
<rect x="150.80" y="448.50" width="0.9" height="16" fill="url(#stripe)" opacity="0.5"/>
<rect x="154.10" y="448.50" width="0.9" height="16" fill="url(#stripe)" opacity="0.5"/>
<ellipse cx="141.45" cy="451.50" rx="3.5" ry="7" fill="#4a4a4a" opacity="0.6" filter="url(#b2)"/>
<g transform="translate(127.30,448.50)">
<rect x="11.5" y="0" width="4" height="10" fill="#5a5a5a" opacity="0.6" filter="url(#b1)"/>
<path d="M18.5,56 C18.8,62 19,67 19.3,72.5" stroke="#b8b8b8" stroke-width="1.6" fill="none"/>
<path d="M6,55 C4.5,57.5 3,58.5 1,59 M22,55 C23.5,57.5 25,58.5 27.5,59" stroke="#b4b4b4" stroke-width="1.8" fill="none" stroke-linecap="round"/>
<g filter="url(#wob2)"><path d="M13.5,5 C16,5 17.8,7.5 18.5,10 C20,11.5 21.5,11.5 23,12.5 C24.5,13.5 24.5,16 24,18 C25.5,24 26.5,32 26.5,40 C26.5,47 25.5,53 22.5,56.5 C20,58.5 17,59 14.5,59 C11,59 7,58.5 4.8,56 C2.5,53 2.2,46 2.5,39 C2.8,32 3.2,24 4,19 C2.5,18.5 0.3,17 0,15.5 C-0.2,14 2,13.5 4.5,13.5 C6.5,13 8,11.5 9,9.5 C10,7 11.5,5 13.5,5 Z" fill="url(#wg)"/></g>
<ellipse cx="13.6" cy="10.5" rx="4.2" ry="5" fill="#c4c4c4" filter="url(#b1)"/>
<ellipse cx="14.5" cy="15.5" rx="2.4" ry="2.6" fill="#a4a4a4" opacity="0.8" filter="url(#b1)"/>
<ellipse cx="9" cy="21" rx="5" ry="4" fill="#f2f2f2" opacity="0.85" filter="url(#b2)"/>
<ellipse cx="15" cy="38" rx="8" ry="12" fill="#e6e6e6" opacity="0.5" filter="url(#b3)"/>
<ellipse cx="22" cy="30" rx="2" ry="9" fill="#c4c4c4" opacity="0.6" filter="url(#b2)"/>
<path d="M13.5,5 C16,5 17.8,7.5 18.5,10 C20,11.5 21.5,11.5 23,12.5 C24.5,13.5 24.5,16 24,18 C25.5,24 26.5,32 26.5,40 C26.5,47 25.5,53 22.5,56.5 C20,58.5 17,59 14.5,59 C11,59 7,58.5 4.8,56 C2.5,53 2.2,46 2.5,39 C2.8,32 3.2,24 4,19 C2.5,18.5 0.3,17 0,15.5 C-0.2,14 2,13.5 4.5,13.5 C6.5,13 8,11.5 9,9.5 C10,7 11.5,5 13.5,5 Z" fill="#888" opacity="0.35" filter="url(#fur)"/>
</g></g>
<clipPath id="c13"><rect x="163.30" y="448.50" width="28.60" height="72.50"/></clipPath>
<g clip-path="url(#c13)">
<rect x="163.30" y="448.50" width="28.60" height="72.50" fill="#0c0c0c"/>
<rect x="165.80" y="448.50" width="0.9" height="16" fill="url(#stripe)" opacity="0.5"/>
<rect x="169.80" y="448.50" width="0.9" height="16" fill="url(#stripe)" opacity="0.5"/>
<rect x="173.80" y="448.50" width="0.9" height="16" fill="url(#stripe)" opacity="0.5"/>
<rect x="178.80" y="448.50" width="0.9" height="16" fill="url(#stripe)" opacity="0.5"/>
<rect x="182.80" y="448.50" width="0.9" height="16" fill="url(#stripe)" opacity="0.5"/>
<rect x="186.80" y="448.50" width="0.9" height="16" fill="url(#stripe)" opacity="0.5"/>
<rect x="190.10" y="448.50" width="0.9" height="16" fill="url(#stripe)" opacity="0.5"/>
<ellipse cx="177.60" cy="451.50" rx="3.5" ry="7" fill="#4a4a4a" opacity="0.6" filter="url(#b2)"/>
<g transform="translate(163.30,448.50)">
<rect x="11.5" y="0" width="4" height="10" fill="#5a5a5a" opacity="0.6" filter="url(#b1)"/>
<path d="M18.5,56 C18.8,62 19,67 19.3,72.5" stroke="#b8b8b8" stroke-width="1.6" fill="none"/>
<path d="M6,55 C4.5,57.5 3,58.5 1,59 M22,55 C23.5,57.5 25,58.5 27.5,59" stroke="#b4b4b4" stroke-width="1.8" fill="none" stroke-linecap="round"/>
<g filter="url(#wob2)"><path d="M13.5,5 C16,5 17.8,7.5 18.5,10 C20,11.5 21.5,11.5 23,12.5 C24.5,13.5 24.5,16 24,18 C25.5,24 26.5,32 26.5,40 C26.5,47 25.5,53 22.5,56.5 C20,58.5 17,59 14.5,59 C11,59 7,58.5 4.8,56 C2.5,53 2.2,46 2.5,39 C2.8,32 3.2,24 4,19 C2.5,18.5 0.3,17 0,15.5 C-0.2,14 2,13.5 4.5,13.5 C6.5,13 8,11.5 9,9.5 C10,7 11.5,5 13.5,5 Z" fill="url(#wg)"/></g>
<ellipse cx="13.6" cy="10.5" rx="4.2" ry="5" fill="#c4c4c4" filter="url(#b1)"/>
<ellipse cx="14.5" cy="15.5" rx="2.4" ry="2.6" fill="#a4a4a4" opacity="0.8" filter="url(#b1)"/>
<ellipse cx="9" cy="21" rx="5" ry="4" fill="#f2f2f2" opacity="0.85" filter="url(#b2)"/>
<ellipse cx="15" cy="38" rx="8" ry="12" fill="#e6e6e6" opacity="0.5" filter="url(#b3)"/>
<ellipse cx="22" cy="30" rx="2" ry="9" fill="#c4c4c4" opacity="0.6" filter="url(#b2)"/>
<path d="M13.5,5 C16,5 17.8,7.5 18.5,10 C20,11.5 21.5,11.5 23,12.5 C24.5,13.5 24.5,16 24,18 C25.5,24 26.5,32 26.5,40 C26.5,47 25.5,53 22.5,56.5 C20,58.5 17,59 14.5,59 C11,59 7,58.5 4.8,56 C2.5,53 2.2,46 2.5,39 C2.8,32 3.2,24 4,19 C2.5,18.5 0.3,17 0,15.5 C-0.2,14 2,13.5 4.5,13.5 C6.5,13 8,11.5 9,9.5 C10,7 11.5,5 13.5,5 Z" fill="#888" opacity="0.35" filter="url(#fur)"/>
</g></g>
<clipPath id="c14"><rect x="193.30" y="448.50" width="28.30" height="72.50"/></clipPath>
<g clip-path="url(#c14)">
<rect x="193.30" y="448.50" width="28.30" height="72.50" fill="#0c0c0c"/>
<rect x="195.80" y="448.50" width="0.9" height="16" fill="url(#stripe)" opacity="0.5"/>
<rect x="199.80" y="448.50" width="0.9" height="16" fill="url(#stripe)" opacity="0.5"/>
<rect x="203.80" y="448.50" width="0.9" height="16" fill="url(#stripe)" opacity="0.5"/>
<rect x="208.80" y="448.50" width="0.9" height="16" fill="url(#stripe)" opacity="0.5"/>
<rect x="212.80" y="448.50" width="0.9" height="16" fill="url(#stripe)" opacity="0.5"/>
<rect x="216.80" y="448.50" width="0.9" height="16" fill="url(#stripe)" opacity="0.5"/>
<rect x="220.10" y="448.50" width="0.9" height="16" fill="url(#stripe)" opacity="0.5"/>
<ellipse cx="207.45" cy="451.50" rx="3.5" ry="7" fill="#4a4a4a" opacity="0.6" filter="url(#b2)"/>
<g transform="translate(193.30,448.50)">
<rect x="11.5" y="0" width="4" height="10" fill="#5a5a5a" opacity="0.6" filter="url(#b1)"/>
<path d="M18.5,56 C18.8,62 19,67 19.3,72.5" stroke="#b8b8b8" stroke-width="1.6" fill="none"/>
<path d="M6,55 C4.5,57.5 3,58.5 1,59 M22,55 C23.5,57.5 25,58.5 27.5,59" stroke="#b4b4b4" stroke-width="1.8" fill="none" stroke-linecap="round"/>
<g filter="url(#wob2)"><path d="M13.5,5 C16,5 17.8,7.5 18.5,10 C20,11.5 21.5,11.5 23,12.5 C24.5,13.5 24.5,16 24,18 C25.5,24 26.5,32 26.5,40 C26.5,47 25.5,53 22.5,56.5 C20,58.5 17,59 14.5,59 C11,59 7,58.5 4.8,56 C2.5,53 2.2,46 2.5,39 C2.8,32 3.2,24 4,19 C2.5,18.5 0.3,17 0,15.5 C-0.2,14 2,13.5 4.5,13.5 C6.5,13 8,11.5 9,9.5 C10,7 11.5,5 13.5,5 Z" fill="url(#wg)"/></g>
<ellipse cx="13.6" cy="10.5" rx="4.2" ry="5" fill="#c4c4c4" filter="url(#b1)"/>
<ellipse cx="14.5" cy="15.5" rx="2.4" ry="2.6" fill="#a4a4a4" opacity="0.8" filter="url(#b1)"/>
<ellipse cx="9" cy="21" rx="5" ry="4" fill="#f2f2f2" opacity="0.85" filter="url(#b2)"/>
<ellipse cx="15" cy="38" rx="8" ry="12" fill="#e6e6e6" opacity="0.5" filter="url(#b3)"/>
<ellipse cx="22" cy="30" rx="2" ry="9" fill="#c4c4c4" opacity="0.6" filter="url(#b2)"/>
<path d="M13.5,5 C16,5 17.8,7.5 18.5,10 C20,11.5 21.5,11.5 23,12.5 C24.5,13.5 24.5,16 24,18 C25.5,24 26.5,32 26.5,40 C26.5,47 25.5,53 22.5,56.5 C20,58.5 17,59 14.5,59 C11,59 7,58.5 4.8,56 C2.5,53 2.2,46 2.5,39 C2.8,32 3.2,24 4,19 C2.5,18.5 0.3,17 0,15.5 C-0.2,14 2,13.5 4.5,13.5 C6.5,13 8,11.5 9,9.5 C10,7 11.5,5 13.5,5 Z" fill="#888" opacity="0.35" filter="url(#fur)"/>
</g></g>
<rect x="226.20" y="454.80" width="3.40" height="55.90" fill="url(#cb)"/>
<line x1="229.60" y1="462.90" x2="231.00" y2="462.90" stroke="#333" stroke-width="0.8"/>
<line x1="229.60" y1="479.60" x2="231.00" y2="479.60" stroke="#333" stroke-width="0.8"/>
<line x1="229.60" y1="495.50" x2="231.00" y2="495.50" stroke="#333" stroke-width="0.8"/>
<line x1="229.60" y1="456.00" x2="230.50" y2="456.00" stroke="#555" stroke-width="0.5"/>
<line x1="229.60" y1="459.60" x2="230.50" y2="459.60" stroke="#555" stroke-width="0.5"/>
<line x1="229.60" y1="463.20" x2="230.50" y2="463.20" stroke="#555" stroke-width="0.5"/>
<line x1="229.60" y1="466.80" x2="230.50" y2="466.80" stroke="#555" stroke-width="0.5"/>
<line x1="229.60" y1="470.40" x2="230.50" y2="470.40" stroke="#555" stroke-width="0.5"/>
<line x1="229.60" y1="474.00" x2="230.50" y2="474.00" stroke="#555" stroke-width="0.5"/>
<line x1="229.60" y1="477.60" x2="230.50" y2="477.60" stroke="#555" stroke-width="0.5"/>
<line x1="229.60" y1="481.20" x2="230.50" y2="481.20" stroke="#555" stroke-width="0.5"/>
<line x1="229.60" y1="484.80" x2="230.50" y2="484.80" stroke="#555" stroke-width="0.5"/>
<line x1="229.60" y1="488.40" x2="230.50" y2="488.40" stroke="#555" stroke-width="0.5"/>
<line x1="229.60" y1="492.00" x2="230.50" y2="492.00" stroke="#555" stroke-width="0.5"/>
<line x1="229.60" y1="495.60" x2="230.50" y2="495.60" stroke="#555" stroke-width="0.5"/>
<line x1="229.60" y1="499.20" x2="230.50" y2="499.20" stroke="#555" stroke-width="0.5"/>
<line x1="229.60" y1="502.80" x2="230.50" y2="502.80" stroke="#555" stroke-width="0.5"/>
<line x1="229.60" y1="506.40" x2="230.50" y2="506.40" stroke="#555" stroke-width="0.5"/>
<line x1="229.60" y1="510.00" x2="230.50" y2="510.00" stroke="#555" stroke-width="0.5"/>
<text x="232.00" y="465.90" font-size="8.2" textLength="11.00" lengthAdjust="spacingAndGlyphs" fill="#231f20">6.0</text>
<text x="232.00" y="482.60" font-size="8.2" textLength="11.00" lengthAdjust="spacingAndGlyphs" fill="#231f20">4.0</text>
<text x="232.00" y="498.50" font-size="8.2" textLength="11.00" lengthAdjust="spacingAndGlyphs" fill="#231f20">2.0</text>
<g transform="translate(254,482.2) rotate(90)"><text x="-31.8" y="3.1" font-size="9" textLength="12" lengthAdjust="spacingAndGlyphs" fill="#231f20">×10</text><text x="-19.6" y="-1.0" font-size="4.5" fill="#231f20">7</text><text x="-16.5" y="3.1" font-size="9" textLength="48.3" lengthAdjust="spacingAndGlyphs" fill="#231f20">(total flux p/s)</text></g>
<text x="291.50" y="173.90" font-size="11" textLength="6.40" lengthAdjust="spacingAndGlyphs" fill="#000" font-weight="bold">E</text>
<text x="332.80" y="174.10" font-size="10.7" textLength="148.50" lengthAdjust="spacingAndGlyphs" fill="#231f20" stroke="#231f20" stroke-width="0.12">PDX mtRunx1 AML #8 Luc/GFP</text>
<rect x="325.00" y="186.50" width="40.50" height="96.80" fill="#d6ebdb"/>
<line x1="325.40" y1="186.50" x2="325.40" y2="283.30" stroke="#333" stroke-width="0.9" stroke-dasharray="1,1.3"/>
<line x1="365.10" y1="186.50" x2="365.10" y2="283.30" stroke="#333" stroke-width="0.9" stroke-dasharray="1,1.3"/>
<text x="329.70" y="192.40" font-size="7.0" textLength="29.30" lengthAdjust="spacingAndGlyphs" fill="#231f20">6 wks Rx</text>
<line x1="316.40" y1="186.50" x2="316.40" y2="283.80" stroke="#3a3a3a" stroke-width="1.1"/>
<line x1="313.20" y1="195.10" x2="316.40" y2="195.10" stroke="#3a3a3a" stroke-width="1.0"/>
<text x="297.20" y="198.10" font-size="9.0" textLength="12.10" lengthAdjust="spacingAndGlyphs" fill="#231f20">100</text>
<line x1="313.20" y1="217.15" x2="316.40" y2="217.15" stroke="#3a3a3a" stroke-width="1.0"/>
<text x="301.60" y="220.15" font-size="9.0" textLength="7.70" lengthAdjust="spacingAndGlyphs" fill="#231f20">75</text>
<line x1="313.20" y1="239.20" x2="316.40" y2="239.20" stroke="#3a3a3a" stroke-width="1.0"/>
<text x="301.60" y="242.20" font-size="9.0" textLength="7.70" lengthAdjust="spacingAndGlyphs" fill="#231f20">50</text>
<line x1="313.20" y1="261.25" x2="316.40" y2="261.25" stroke="#3a3a3a" stroke-width="1.0"/>
<text x="301.60" y="264.25" font-size="9.0" textLength="7.70" lengthAdjust="spacingAndGlyphs" fill="#231f20">25</text>
<line x1="313.20" y1="283.30" x2="316.40" y2="283.30" stroke="#3a3a3a" stroke-width="1.0"/>
<text x="305.30" y="286.30" font-size="9.0" textLength="4.00" lengthAdjust="spacingAndGlyphs" fill="#231f20">0</text>
<g transform="translate(294.30,235.40) rotate(-90)"><text x="-25.90" y="2.97" font-size="8.6" textLength="51.80" lengthAdjust="spacingAndGlyphs" fill="#231f20">Percent survival</text></g>
<line x1="316.60" y1="283.30" x2="347.60" y2="283.30" stroke="#3a3a3a" stroke-width="1.1"/>
<line x1="316.60" y1="283.30" x2="316.60" y2="286.30" stroke="#3a3a3a" stroke-width="1.0"/>
<line x1="329.00" y1="283.30" x2="329.00" y2="286.30" stroke="#3a3a3a" stroke-width="1.0"/>
<line x1="341.40" y1="283.30" x2="341.40" y2="286.30" stroke="#3a3a3a" stroke-width="1.0"/>
<line x1="347.60" y1="283.30" x2="347.60" y2="286.30" stroke="#3a3a3a" stroke-width="1.0"/>
<line x1="358.00" y1="283.30" x2="461.50" y2="283.30" stroke="#3a3a3a" stroke-width="1.1"/>
<line x1="358.00" y1="283.30" x2="358.00" y2="286.30" stroke="#3a3a3a" stroke-width="1.0"/>
<line x1="383.25" y1="283.30" x2="383.25" y2="286.30" stroke="#3a3a3a" stroke-width="1.0"/>
<line x1="408.50" y1="283.30" x2="408.50" y2="286.30" stroke="#3a3a3a" stroke-width="1.0"/>
<line x1="433.75" y1="283.30" x2="433.75" y2="286.30" stroke="#3a3a3a" stroke-width="1.0"/>
<line x1="459.00" y1="283.30" x2="459.00" y2="286.30" stroke="#3a3a3a" stroke-width="1.0"/>
<text x="314.42" y="294.96" font-size="8.3" textLength="3.95" lengthAdjust="spacingAndGlyphs" fill="#231f20">0</text>
<text x="325.05" y="294.96" font-size="8.3" textLength="7.90" lengthAdjust="spacingAndGlyphs" fill="#231f20">10</text>
<text x="337.25" y="294.96" font-size="8.3" textLength="7.90" lengthAdjust="spacingAndGlyphs" fill="#231f20">20</text>
<text x="354.05" y="294.96" font-size="8.3" textLength="7.90" lengthAdjust="spacingAndGlyphs" fill="#231f20">40</text>
<text x="379.30" y="294.96" font-size="8.3" textLength="7.90" lengthAdjust="spacingAndGlyphs" fill="#231f20">60</text>
<text x="404.55" y="294.96" font-size="8.3" textLength="7.90" lengthAdjust="spacingAndGlyphs" fill="#231f20">80</text>
<text x="427.82" y="294.96" font-size="8.3" textLength="11.85" lengthAdjust="spacingAndGlyphs" fill="#231f20">100</text>
<text x="453.07" y="294.96" font-size="8.3" textLength="11.85" lengthAdjust="spacingAndGlyphs" fill="#231f20">120</text>
<text x="349.20" y="306.32" font-size="9.9" textLength="75.40" lengthAdjust="spacingAndGlyphs" fill="#231f20">Days post-engraftment</text>
<polyline points="377.50,195.10 411.40,195.10 411.40,203.60 414.10,203.60 414.10,212.70 421.00,212.70 421.00,222.30 430.10,222.30 430.10,230.80 431.50,230.80 431.50,239.00 433.20,239.00 433.20,257.20 436.80,257.20 436.80,265.90 439.60,265.90 439.60,274.40 462.20,274.40" fill="none" stroke="#f7941d" stroke-width="1.3" stroke-linejoin="miter"/>
<path d="M411.40,201.10 L413.90,203.60 L411.40,206.10 L408.90,203.60Z" fill="#f7941d"/>
<path d="M414.10,210.20 L416.60,212.70 L414.10,215.20 L411.60,212.70Z" fill="#f7941d"/>
<path d="M421.00,219.80 L423.50,222.30 L421.00,224.80 L418.50,222.30Z" fill="#f7941d"/>
<path d="M430.10,228.30 L432.60,230.80 L430.10,233.30 L427.60,230.80Z" fill="#f7941d"/>
<path d="M431.50,236.50 L434.00,239.00 L431.50,241.50 L429.00,239.00Z" fill="#f7941d"/>
<path d="M433.20,254.70 L435.70,257.20 L433.20,259.70 L430.70,257.20Z" fill="#f7941d"/>
<path d="M436.80,263.40 L439.30,265.90 L436.80,268.40 L434.30,265.90Z" fill="#f7941d"/>
<path d="M439.60,271.90 L442.10,274.40 L439.60,276.90 L437.10,274.40Z" fill="#f7941d"/>
<path d="M462.20,271.90 L464.70,274.40 L462.20,276.90 L459.70,274.40Z" fill="#f7941d"/>
<polyline points="369.00,195.10 371.60,195.10 371.60,206.40 404.20,206.40 404.20,217.60 412.30,217.60 412.30,239.00 414.10,239.00 414.10,272.60 416.30,272.60 416.30,283.30" fill="none" stroke="#2fb04a" stroke-width="1.3" stroke-linejoin="miter"/>
<rect x="369.30" y="204.10" width="4.60" height="4.60" fill="#2fb04a"/>
<rect x="401.90" y="215.30" width="4.60" height="4.60" fill="#2fb04a"/>
<rect x="410.00" y="236.70" width="4.60" height="4.60" fill="#2fb04a"/>
<rect x="411.80" y="270.30" width="4.60" height="4.60" fill="#2fb04a"/>
<rect x="414.00" y="281.00" width="4.60" height="4.60" fill="#2fb04a"/>
<polyline points="368.00,195.10 377.20,195.10 377.20,216.30 383.10,216.30 383.10,227.80 398.20,227.80 398.20,238.60 404.70,238.60 404.70,249.50 407.30,249.50 407.30,272.60 410.50,272.60 410.50,283.30" fill="none" stroke="#1a1a1a" stroke-width="1.3" stroke-linejoin="miter"/>
<path d="M377.20,218.90 L379.67,214.74 L374.73,214.74Z" fill="#1a1a1a"/>
<path d="M383.10,230.40 L385.57,226.24 L380.63,226.24Z" fill="#1a1a1a"/>
<path d="M398.20,241.20 L400.67,237.04 L395.73,237.04Z" fill="#1a1a1a"/>
<path d="M404.70,252.10 L407.17,247.94 L402.23,247.94Z" fill="#1a1a1a"/>
<path d="M407.30,275.20 L409.77,271.04 L404.83,271.04Z" fill="#1a1a1a"/>
<path d="M410.50,285.90 L412.97,281.74 L408.03,281.74Z" fill="#1a1a1a"/>
<polyline points="347.40,195.10 347.40,203.90 347.70,203.90" fill="none" stroke="#cc2336" stroke-width="1.3" stroke-linejoin="miter"/>
<path d="M347.40,201.30 L349.87,205.46 L344.93,205.46Z" fill="#cc2336"/>
<polyline points="357.10,203.60 359.10,203.60 359.10,212.90 360.50,212.90 360.50,222.20 363.90,222.20 363.90,230.70 367.60,230.70 367.60,248.50 372.40,248.50 372.40,257.90 377.20,257.90 377.20,283.30" fill="none" stroke="#cc2336" stroke-width="1.3" stroke-linejoin="miter"/>
<path d="M359.10,210.30 L361.57,214.46 L356.63,214.46Z" fill="#cc2336"/>
<path d="M360.50,219.60 L362.97,223.76 L358.03,223.76Z" fill="#cc2336"/>
<path d="M363.90,228.10 L366.37,232.26 L361.43,232.26Z" fill="#cc2336"/>
<path d="M372.40,255.30 L374.87,259.46 L369.93,259.46Z" fill="#cc2336"/>
<path d="M377.20,280.70 L379.67,284.86 L374.73,284.86Z" fill="#cc2336"/>
<polyline points="316.60,195.10 347.70,195.10" fill="none" stroke="#1f5b98" stroke-width="1.3" stroke-linejoin="miter"/>
<polyline points="357.60,195.10 368.20,195.10 368.20,221.40 369.00,221.40 369.00,248.10 373.30,248.10 373.30,256.60 382.30,256.60 382.30,274.10 391.10,274.10 391.10,283.30" fill="none" stroke="#1f5b98" stroke-width="1.3" stroke-linejoin="miter"/>
<circle cx="368.20" cy="221.40" r="2.40" fill="#1f5b98"/>
<circle cx="369.00" cy="248.10" r="2.40" fill="#1f5b98"/>
<circle cx="373.30" cy="256.60" r="2.40" fill="#1f5b98"/>
<circle cx="382.30" cy="274.10" r="2.40" fill="#1f5b98"/>
<circle cx="391.10" cy="283.30" r="2.40" fill="#1f5b98"/>
<line x1="436.90" y1="197.80" x2="447.60" y2="197.80" stroke="#cc2336" stroke-width="1.3"/>
<path d="M442.50,195.07 L445.09,199.44 L439.91,199.44Z" fill="#cc2336"/>
<text x="450.80" y="200.55" font-size="8.0" textLength="44.90" lengthAdjust="spacingAndGlyphs" fill="#231f20">20 mg/kg Ven</text>
<line x1="436.90" y1="208.20" x2="447.60" y2="208.20" stroke="#1f5b98" stroke-width="1.3"/>
<circle cx="442.50" cy="208.20" r="2.52" fill="#1f5b98"/>
<text x="450.80" y="210.95" font-size="8.0" textLength="22.80" lengthAdjust="spacingAndGlyphs" fill="#231f20">Vehicle</text>
<line x1="436.90" y1="218.50" x2="447.60" y2="218.50" stroke="#2fb04a" stroke-width="1.3"/>
<rect x="440.08" y="216.09" width="4.83" height="4.83" fill="#2fb04a"/>
<text x="450.80" y="221.25" font-size="8.0" textLength="40.60" lengthAdjust="spacingAndGlyphs" fill="#231f20">1 mg/kg OM</text>
<line x1="436.90" y1="231.50" x2="447.60" y2="231.50" stroke="#f7941d" stroke-width="1.3"/>
<path d="M442.50,228.88 L445.12,231.50 L442.50,234.12 L439.88,231.50Z" fill="#f7941d"/>
<text x="450.80" y="234.25" font-size="8.0" textLength="62.20" lengthAdjust="spacingAndGlyphs" fill="#231f20">1 mg/kg OM + Ven</text>
<line x1="436.90" y1="242.80" x2="447.60" y2="242.80" stroke="#1a1a1a" stroke-width="1.3"/>
<path d="M442.50,245.53 L445.09,241.16 L439.91,241.16Z" fill="#1a1a1a"/>
<text x="450.80" y="245.55" font-size="8.0" textLength="46.70" lengthAdjust="spacingAndGlyphs" fill="#231f20">0.5 mg/kg OM</text>
<text x="291.10" y="361.50" font-size="11" textLength="6.50" lengthAdjust="spacingAndGlyphs" fill="#000" font-weight="bold">F</text>
<text x="332.90" y="362.10" font-size="10.7" textLength="148.40" lengthAdjust="spacingAndGlyphs" fill="#231f20" stroke="#231f20" stroke-width="0.12">PDX mtRunx1 AML #8 Luc/GFP</text>
<rect x="324.60" y="370.50" width="42.90" height="102.70" fill="#d6ebdb"/>
<line x1="325.00" y1="370.50" x2="325.00" y2="473.20" stroke="#333" stroke-width="0.9" stroke-dasharray="1,1.3"/>
<line x1="367.10" y1="370.50" x2="367.10" y2="473.20" stroke="#333" stroke-width="0.9" stroke-dasharray="1,1.3"/>
<text x="329.60" y="377.00" font-size="7.0" textLength="29.20" lengthAdjust="spacingAndGlyphs" fill="#231f20">6 wks Rx</text>
<line x1="315.30" y1="370.50" x2="315.30" y2="473.70" stroke="#3a3a3a" stroke-width="1.1"/>
<line x1="312.10" y1="380.20" x2="315.30" y2="380.20" stroke="#3a3a3a" stroke-width="1.0"/>
<text x="297.70" y="383.20" font-size="9.0" textLength="12.10" lengthAdjust="spacingAndGlyphs" fill="#231f20">100</text>
<line x1="312.10" y1="403.45" x2="315.30" y2="403.45" stroke="#3a3a3a" stroke-width="1.0"/>
<text x="302.10" y="406.45" font-size="9.0" textLength="7.70" lengthAdjust="spacingAndGlyphs" fill="#231f20">75</text>
<line x1="312.10" y1="426.70" x2="315.30" y2="426.70" stroke="#3a3a3a" stroke-width="1.0"/>
<text x="302.10" y="429.70" font-size="9.0" textLength="7.70" lengthAdjust="spacingAndGlyphs" fill="#231f20">50</text>
<line x1="312.10" y1="449.95" x2="315.30" y2="449.95" stroke="#3a3a3a" stroke-width="1.0"/>
<text x="302.10" y="452.95" font-size="9.0" textLength="7.70" lengthAdjust="spacingAndGlyphs" fill="#231f20">25</text>
<line x1="312.10" y1="473.20" x2="315.30" y2="473.20" stroke="#3a3a3a" stroke-width="1.0"/>
<text x="305.80" y="476.20" font-size="9.0" textLength="4.00" lengthAdjust="spacingAndGlyphs" fill="#231f20">0</text>
<g transform="translate(293.80,423.00) rotate(-90)"><text x="-26.00" y="2.97" font-size="8.6" textLength="52.00" lengthAdjust="spacingAndGlyphs" fill="#231f20">Percent survival</text></g>
<line x1="315.20" y1="473.20" x2="348.60" y2="473.20" stroke="#3a3a3a" stroke-width="1.1"/>
<line x1="315.20" y1="473.20" x2="315.20" y2="476.20" stroke="#3a3a3a" stroke-width="1.0"/>
<line x1="328.50" y1="473.20" x2="328.50" y2="476.20" stroke="#3a3a3a" stroke-width="1.0"/>
<line x1="341.70" y1="473.20" x2="341.70" y2="476.20" stroke="#3a3a3a" stroke-width="1.0"/>
<line x1="348.60" y1="473.20" x2="348.60" y2="476.20" stroke="#3a3a3a" stroke-width="1.0"/>
<line x1="359.60" y1="473.20" x2="468.10" y2="473.20" stroke="#3a3a3a" stroke-width="1.1"/>
<line x1="359.60" y1="473.20" x2="359.60" y2="476.20" stroke="#3a3a3a" stroke-width="1.0"/>
<line x1="385.95" y1="473.20" x2="385.95" y2="476.20" stroke="#3a3a3a" stroke-width="1.0"/>
<line x1="412.30" y1="473.20" x2="412.30" y2="476.20" stroke="#3a3a3a" stroke-width="1.0"/>
<line x1="438.65" y1="473.20" x2="438.65" y2="476.20" stroke="#3a3a3a" stroke-width="1.0"/>
<line x1="465.00" y1="473.20" x2="465.00" y2="476.20" stroke="#3a3a3a" stroke-width="1.0"/>
<text x="313.02" y="484.96" font-size="8.3" textLength="3.95" lengthAdjust="spacingAndGlyphs" fill="#231f20">0</text>
<text x="324.55" y="484.96" font-size="8.3" textLength="7.90" lengthAdjust="spacingAndGlyphs" fill="#231f20">10</text>
<text x="337.65" y="484.96" font-size="8.3" textLength="7.90" lengthAdjust="spacingAndGlyphs" fill="#231f20">20</text>
<text x="355.65" y="484.96" font-size="8.3" textLength="7.90" lengthAdjust="spacingAndGlyphs" fill="#231f20">40</text>
<text x="382.00" y="484.96" font-size="8.3" textLength="7.90" lengthAdjust="spacingAndGlyphs" fill="#231f20">60</text>
<text x="408.35" y="484.96" font-size="8.3" textLength="7.90" lengthAdjust="spacingAndGlyphs" fill="#231f20">80</text>
<text x="432.73" y="484.96" font-size="8.3" textLength="11.85" lengthAdjust="spacingAndGlyphs" fill="#231f20">100</text>
<text x="459.07" y="484.96" font-size="8.3" textLength="11.85" lengthAdjust="spacingAndGlyphs" fill="#231f20">120</text>
<text x="354.00" y="496.72" font-size="9.9" textLength="75.40" lengthAdjust="spacingAndGlyphs" fill="#231f20">Days post-engraftment</text>
<polyline points="348.20,380.20 348.20,389.60 348.80,389.60" fill="none" stroke="#b5b5b5" stroke-width="1.3" stroke-linejoin="miter"/>
<path d="M348.20,387.00 L350.67,391.16 L345.73,391.16Z" fill="#b5b5b5"/>
<polyline points="358.60,389.50 403.30,389.50 403.30,398.30 425.40,398.30 425.40,408.60 428.10,408.60 428.10,417.20 436.30,417.20 436.30,427.30 447.50,427.30 447.50,437.00 449.00,437.00 449.00,446.20 451.70,446.20 451.70,455.30 452.20,455.30 452.20,473.20" fill="none" stroke="#b5b5b5" stroke-width="1.3" stroke-linejoin="miter"/>
<path d="M403.30,395.70 L405.77,399.86 L400.83,399.86Z" fill="#b5b5b5"/>
<path d="M425.40,406.00 L427.87,410.16 L422.93,410.16Z" fill="#b5b5b5"/>
<path d="M428.10,414.60 L430.57,418.76 L425.63,418.76Z" fill="#b5b5b5"/>
<path d="M436.30,424.70 L438.77,428.86 L433.83,428.86Z" fill="#b5b5b5"/>
<path d="M447.50,434.40 L449.97,438.56 L445.03,438.56Z" fill="#b5b5b5"/>
<path d="M449.00,443.60 L451.47,447.76 L446.53,447.76Z" fill="#b5b5b5"/>
<path d="M451.70,452.70 L454.17,456.86 L449.23,456.86Z" fill="#b5b5b5"/>
<path d="M452.20,470.60 L454.67,474.76 L449.73,474.76Z" fill="#b5b5b5"/>
<polyline points="370.00,380.20 374.30,380.20 374.30,391.80 408.20,391.80 408.20,403.20 416.30,403.20 416.30,426.80 418.70,426.80 418.70,461.70 420.30,461.70 420.30,473.20" fill="none" stroke="#2fb04a" stroke-width="1.3" stroke-linejoin="miter"/>
<rect x="372.00" y="389.30" width="4.60" height="4.60" fill="#2fb04a"/>
<rect x="405.90" y="400.90" width="4.60" height="4.60" fill="#2fb04a"/>
<rect x="414.00" y="424.50" width="4.60" height="4.60" fill="#2fb04a"/>
<rect x="416.40" y="459.40" width="4.60" height="4.60" fill="#2fb04a"/>
<rect x="418.00" y="470.90" width="4.60" height="4.60" fill="#2fb04a"/>
<polyline points="372.00,380.20 379.20,380.20 379.20,391.30 382.20,391.30 382.20,402.80 388.00,402.80 388.00,414.20 390.00,414.20 390.00,437.70 400.80,437.70 400.80,448.90 401.80,448.90 401.80,473.20" fill="none" stroke="#7b3a96" stroke-width="1.3" stroke-linejoin="miter"/>
<path d="M379.20,393.20 L381.67,389.04 L376.73,389.04Z" fill="#7b3a96"/>
<path d="M382.20,405.00 L384.67,400.84 L379.73,400.84Z" fill="#7b3a96"/>
<path d="M388.00,416.80 L390.47,412.64 L385.53,412.64Z" fill="#7b3a96"/>
<path d="M390.00,440.30 L392.47,436.14 L387.53,436.14Z" fill="#7b3a96"/>
<path d="M400.80,451.50 L403.27,447.34 L398.33,447.34Z" fill="#7b3a96"/>
<path d="M401.80,475.80 L404.27,471.64 L399.33,471.64Z" fill="#7b3a96"/>
<polyline points="315.20,380.20 349.40,380.20" fill="none" stroke="#1f5b98" stroke-width="1.3" stroke-linejoin="miter"/>
<polyline points="358.60,380.20 370.40,380.20 370.40,407.90 371.40,407.90 371.40,435.70 376.30,435.70 376.30,445.50 384.70,445.50 384.70,463.80 393.90,463.80 393.90,473.20" fill="none" stroke="#1f5b98" stroke-width="1.3" stroke-linejoin="miter"/>
<circle cx="370.40" cy="407.90" r="2.40" fill="#1f5b98"/>
<circle cx="371.40" cy="435.70" r="2.40" fill="#1f5b98"/>
<circle cx="376.30" cy="445.50" r="2.40" fill="#1f5b98"/>
<circle cx="384.70" cy="463.80" r="2.40" fill="#1f5b98"/>
<circle cx="393.90" cy="473.20" r="2.40" fill="#1f5b98"/>
<line x1="442.10" y1="380.50" x2="453.00" y2="380.50" stroke="#1f5b98" stroke-width="1.3"/>
<circle cx="447.40" cy="380.50" r="2.52" fill="#1f5b98"/>
<text x="455.70" y="383.25" font-size="8.0" textLength="23.10" lengthAdjust="spacingAndGlyphs" fill="#231f20">Vehicle</text>
<line x1="442.10" y1="390.70" x2="453.00" y2="390.70" stroke="#2fb04a" stroke-width="1.3"/>
<rect x="444.98" y="388.28" width="4.83" height="4.83" fill="#2fb04a"/>
<text x="455.70" y="393.45" font-size="8.0" textLength="41.70" lengthAdjust="spacingAndGlyphs" fill="#231f20">1 mg/kg OM</text>
<line x1="442.10" y1="401.50" x2="453.00" y2="401.50" stroke="#7b3a96" stroke-width="1.3"/>
<path d="M447.40,404.23 L449.99,399.86 L444.81,399.86Z" fill="#7b3a96"/>
<text x="455.70" y="404.25" font-size="8.0" textLength="47.30" lengthAdjust="spacingAndGlyphs" fill="#231f20">30 mg/kg OTX</text>
<line x1="442.10" y1="413.30" x2="453.00" y2="413.30" stroke="#b5b5b5" stroke-width="1.3"/>
<path d="M447.40,410.57 L449.99,414.94 L444.81,414.94Z" fill="#b5b5b5"/>
<text x="455.70" y="416.05" font-size="8.0" textLength="36.00" lengthAdjust="spacingAndGlyphs" fill="#231f20">OM + OTX</text>
<rect x="0" y="0" width="520" height="1.2" fill="#141010"/><rect x="0" y="0" width="1.1" height="541" fill="#141010"/><rect x="518.8" y="0" width="1.2" height="541" fill="#141010"/><rect x="0" y="539.5" width="520" height="1.5" fill="#141010"/>
</svg></body></html>
